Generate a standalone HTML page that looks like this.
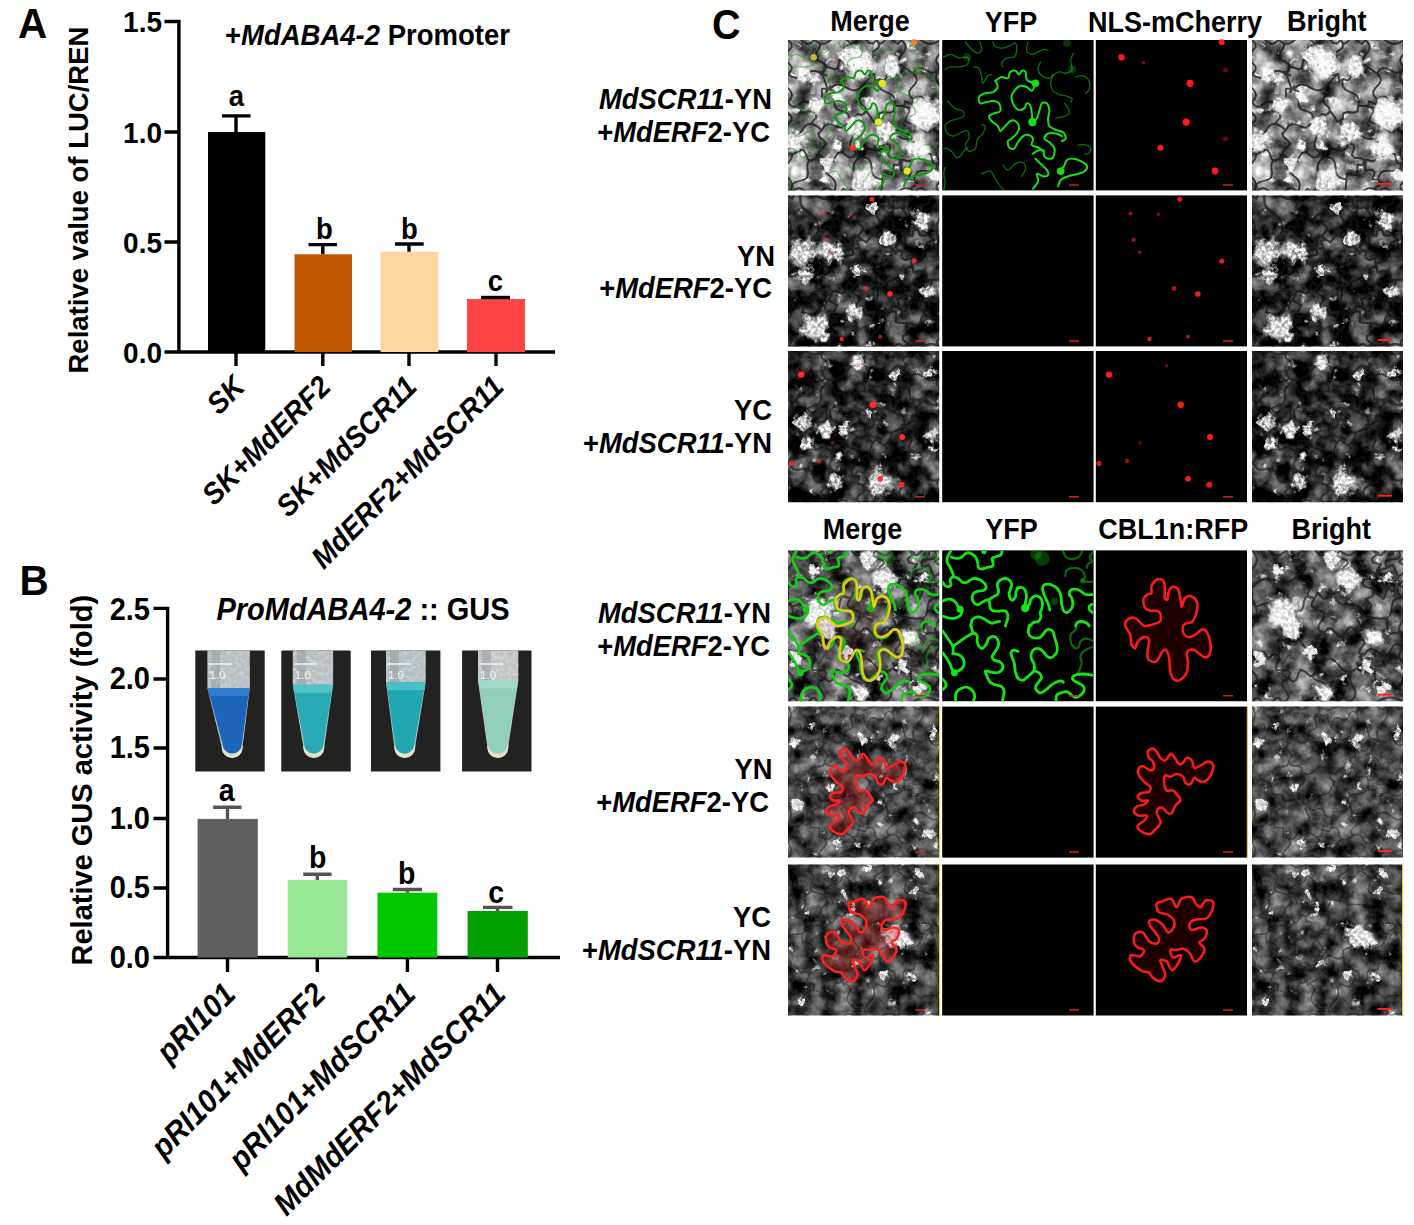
<!DOCTYPE html>
<html><head><meta charset="utf-8">
<style>
html,body{margin:0;padding:0;background:#fff;width:1414px;height:1225px;overflow:hidden}
svg#main{position:absolute;left:0;top:0}
text{font-family:"Liberation Sans",sans-serif;font-weight:bold;fill:#000}
</style></head><body>
<svg id="main" width="1414" height="1225" viewBox="0 0 1414 1225">
<defs>
<radialGradient id="gw"><stop offset="0" stop-color="#fff" stop-opacity="1"/><stop offset="1" stop-color="#fff" stop-opacity="0"/></radialGradient>
<radialGradient id="gk"><stop offset="0" stop-color="#000" stop-opacity="1"/><stop offset="1" stop-color="#000" stop-opacity="0"/></radialGradient>
<filter id="ft1" x="0" y="0" width="100%" height="100%" color-interpolation-filters="sRGB">
<feTurbulence type="fractalNoise" baseFrequency="0.05" numOctaves="4" seed="3" result="n1"/>
<feColorMatrix in="n1" type="matrix" values="1.4 0 0 0 -0.22  1.4 0 0 0 -0.22  1.4 0 0 0 -0.22  0 0 0 0 1" result="base"/>
<feTurbulence type="fractalNoise" baseFrequency="0.09" numOctaves="5" seed="20" result="n2"/>
<feColorMatrix in="n2" type="matrix" values="0 0 0 0 1  0 0 0 0 1  0 0 0 0 1  5 0 0 0 -3.1" result="white"/>
<feTurbulence type="turbulence" baseFrequency="0.045" numOctaves="1" seed="34" result="n3"/>
<feColorMatrix in="n3" type="matrix" values="0 0 0 0 0.08  0 0 0 0 0.08  0 0 0 0 0.08  0 0 0 0 0" result="lines"/>
<feComposite in="white" in2="base" operator="over" result="c1"/>
<feComposite in="lines" in2="c1" operator="over" result="c2"/>
<feGaussianBlur in="c2" stdDeviation="0.7"/>
</filter>
<filter id="spt1" x="-10%" y="-10%" width="120%" height="120%" color-interpolation-filters="sRGB">
<feTurbulence type="fractalNoise" baseFrequency="0.12" numOctaves="3" seed="53" result="t"/>
<feDisplacementMap in="SourceGraphic" in2="t" scale="14" xChannelSelector="R" yChannelSelector="G" result="d"/>
<feColorMatrix in="d" type="matrix" values="0 0 0 0 1  0 0 0 0 1  0 0 0 0 1  0 0 0 4 -1.2" result="w"/>
<feTurbulence type="fractalNoise" baseFrequency="0.3" numOctaves="2" seed="80" result="hf"/>
<feColorMatrix in="hf" type="matrix" values="0 0 0 0 1  0 0 0 0 1  0 0 0 0 1  3 0 0 0 -0.9" result="hfa"/>
<feComposite in="w" in2="hfa" operator="arithmetic" k1="0.35" k2="0.65" k3="0" k4="0" result="wt"/>
<feGaussianBlur in="wt" stdDeviation="0.5"/>
</filter>
<g id="text1"><rect width="152" height="152" filter="url(#ft1)"/><path d="M60.3 152L64 149.4 67.7 148.1 71.3 148.5 75 150.6 78.6 153.4 82.3 155.5 85.9 155.9 89.6 154.6 93.3 152M45.8 152L50.7 155.5 55.5 148.5 60.3 152M59.9 81.6L60.8 77.2 60 73.8 56.7 71.8 52.2 70.5 48.3 68.8 46.6 65.9 47.1 61.7 48.3 57.1 48.1 53.3 45.6 50.9 41.3 49.5M75.2 45.5L72 48.2 68.8 50 65.4 50.4 61.9 49.4 58.2 47.5 54.6 45.5 51 44.5 47.6 44.9 44.4 46.7 41.3 49.5M75.2 45.5L78.7 49.3 77.7 52.9 73.2 56.4 70.6 60 72.9 63.8 77.1 67.6 77.8 71.3 74 74.9M74 74.9L69.4 74.1 69.2 81.9 62.7 77.6 60.7 81.8M88.5 -0L84.8 3.7 81.1 2.8 77.4 -1.5 73.7 -4 70 -1.5 66.3 2.8 62.6 3.7 58.9 -0M58.3 19.2L63.5 17.8 65.6 21.7 66.3 27.8 69.6 29.7 75.3 27.5 79.6 27.6 80.8 32.9M58.3 19.2L62.2 15.5 56.2 11.5 56.3 7.6 62.6 4 58.9 -0M80.8 32.9L84.8 30.4 86.1 27.2 84.3 23.3 81.6 19.2 80.8 15.6 83.1 12.6 87.4 10.2 90.7 7.4 90.9 4 88.5 -0M26.5 0L22.8 3.1 19 3.9 15.2 1.7 11.4 -1.7 7.6 -3.9 3.8 -3.1 0 -0M58.9 -0L55.3 -2.6 51.7 -3.9 48.1 -3.5 44.5 -1.4 40.9 1.4 37.3 3.5 33.7 3.9 30.1 2.6 26.5 0M58.3 19.2L53.1 17.8 50.9 21.5 50.1 27.6 46.9 29.5 41.2 27.2 36.8 27.3 35.6 32.5M35.6 32.5L37.8 28.4 37.4 25 34.1 22.5 29.7 20.2 27.2 17.3 27.9 13.6 30.4 9.4 32 5.5 30.6 2.4 26.5 -0M75.2 45.5L77.6 42.6 80.1 39.7 82.6 36.8M82.6 36.8L85.2 34.1 78.2 35.6 80.8 32.9M41.3 49.5L42.2 46 38.4 51.9 39.3 48.4M39.3 48.4L37.8 43.9 36.2 39.4 34.6 35M35.6 32.5L32 32.1 38.2 35.4 34.6 35M59.9 81.6L57.5 85.4 54.7 87.5 51.1 87.5 46.9 85.8 42.8 84.2 39.2 84.2 36.3 86.3 34 90.1M39.3 48.4L33.7 48.7 34 54.3 34.2 59.9 28.6 60.2 23 60.4 23.2 66M23.2 66L20.5 70.9 27.5 73.4 28.5 77.4 23.5 82.8 28.1 85.9M34 90.1L32 88.7 30.1 87.3 28.1 85.9M36.8 119L41 121.7 44.5 121.1 47.3 117 50.1 112.9 53.6 112.2 57.7 115 61.9 117.7 65.4 117 68.2 112.9M36.8 119L35.9 118.4 35 117.9 34.1 117.3M60.7 81.8L64 84.7 66.2 87.8 66.5 91.4 65.3 95.3 63.5 99.4 62.3 103.4 62.7 107 64.9 110.1 68.2 112.9M34 90.1L30.3 93.5 31.2 96.9 35.5 100.3 38 103.7 35.6 107.1 31.2 110.5 30.3 113.9 34.1 117.3M36.8 119L35.5 122.9 35 126.6 35.9 129.9 38.2 132.8 41.3 135.5 44.5 138.2 46.8 141.1 47.7 144.4 47.2 148.1 45.8 152M45.8 152L42.3 149.2 38.8 148 35.3 149.2 31.9 152 28.4 154.8 24.9 156 21.4 154.8 17.9 152 14.4 149.2 10.9 148 7.4 149.2 3.9 152M3.9 152L3.6 147.6 4.6 144.2 7.5 142.1 11.8 140.9 16 139.8 18.9 137.7 19.9 134.3 19.6 129.9 19.2 125.5 20.2 122 23.1 119.9 27.4 118.8M27.4 118.8L28.8 114.9 32.6 121.2 34.1 117.3M152 63.8L148.5 67.5 148.5 71.2 152 74.9 155.5 78.6 155.5 82.3 152 86M94.5 139.4L94.7 134 100 134.6 105.4 135.3 105.5 129.9 105.7 124.5 111 125.1M94.5 139.4L90.2 138.6 86.8 137 84.8 134.2 83.9 130.2 83.4 125.8 82.5 121.8 80.5 119 77.1 117.4 72.8 116.6M111 125.1L112.1 119.8 108.2 118 102.1 117.7 100 114.6 101.9 108.7 101.5 104.4 96.2 103.6M96.2 103.6L94.3 108.1 91.3 110.5 86.9 110.4 81.9 109.1 77.6 108.9 74.6 111.4 72.7 115.9M93.3 152L93.7 147.8 94.1 143.6 94.5 139.4M60.3 152L63.5 149.5 66 146.8 67.5 143.7 67.7 140.1 67.1 136.3 66.1 132.3 65.4 128.5 65.7 125 67.1 121.9 69.6 119.1 72.8 116.6M68.2 112.9L69.7 113.9 71.2 114.9 72.7 115.9M90.8 79L88.1 83.8 93.1 86.1 98 88.4 95.3 93.2 92.6 98 97.6 100.3M97.6 100.3L97.1 101.4 96.7 102.5 96.2 103.6M74 74.9L79.2 72 82.4 76.9 85.6 81.9 90.8 79M90.8 79L91.4 73.5 95.5 71.9 101.7 72.8 105.7 71.3 106.3 65.7M82.6 36.8L86.1 34.1 87.3 41.4 90.8 38.7M90.8 38.7L90.3 43 90.9 46.6 93 49.4 96.5 51.4 100.6 53 104.2 55 106.3 57.8 106.8 61.4 106.3 65.7M125.9 92.1L128.2 87.6 126.2 84.7 120.9 83 117.4 80.6 118.5 76.5 121.4 71.8 121 68.3 116.4 66.3M152 86L147.4 83.1 144.1 86 141.5 91.6 137.8 92.5 133 88.6 128.7 87.4 125.9 92.1M152 63.8L148.2 66 144.6 66.6 141.4 64.9 138.5 61.6 135.6 58.2 132.4 56.5 128.8 57.1 125 59.3M125 59.3L124.3 64.3 117 61.3 116.4 66.3M97.6 100.3L100.3 96.7 103.5 94.7 107.2 95 111.3 96.9 115.4 98.8 119.2 99.1 122.3 97.1 125.1 93.5M106.3 65.7L109.7 65.9 113 66.1 116.4 66.3M115.5 27.2L112.4 24 111 20.7 111.9 17.2 114.4 13.6 117 10 117.9 6.5 116.5 3.2 113.4 -0M113.4 0L116.9 -2.2 120.4 -3.6 123.9 -4 127.4 -3 130.9 -1.1 134.4 1.1 138 3 141.5 4 145 3.6 148.5 2.2 152 -0M152 27.4L149.2 24 148 20.6 149.2 17.2 152 13.7 154.8 10.3 156 6.9 154.8 3.4 152 -0M125 33.4L127.8 29.9 130.9 28 134.5 28.4 138.5 30.4 142.5 32.4 146.1 32.8 149.2 31 152 27.4M125 33.4L121.8 31.3 118.7 29.2 115.5 27.2M88.5 -0L92 3.9 95.6 1.7 99.1 -3.1 102.7 -3.1 106.3 1.7 109.8 3.9 113.4 0M90.8 38.7L95.5 40.6 98.2 38.4 99.4 33 101.5 29.3 105.6 30.1 110.5 32.6 114 32 115.5 27.2M152 63.8L154.2 60.5 155.6 57.2 156 53.9 155 50.6 153.1 47.3 150.9 44 149 40.7 148 37.4 148.4 34.1 149.8 30.8 152 27.4M125 59.3L121.8 55.6 121.1 51.9 123.2 48.2 126.7 44.5 128.9 40.8 128.1 37.1 125 33.4M0 108.3L-0 103.9 0 99.4 -0 94.9M28.1 85.9L23.7 84.3 19.9 84.3 16.7 86.6 14.1 90.4 11.4 94.2 8.3 96.5 4.4 96.5 0 94.9M27.4 118.8L22.7 121 19.5 118.8 17.7 113.5 15.1 109.8 10.8 110.8 5.8 113.6 2.1 113.1 -0 108.3M0 108.3L2.7 111.7 4 115.1 3.3 118.4 1 121.8 -1.9 125.1 -3.7 128.5 -3.7 131.9 -1.9 135.2 1 138.6 3.3 141.9 4 145.3 2.7 148.6 0 152M3.9 152L2.6 152 1.3 152 0 152M125.1 93.5L122.1 97.8 124.3 101.1 129.6 103.7 131.8 106.9 128.8 111.3M111 125.1L112.3 121.8 112.4 128.7 113.6 125.4M113.6 125.4L114.1 119.8 121.3 121.5 124.3 118.6 123.2 111.3 128.8 111.3M0 33.9L-2.8 37.4 -4 41 -2.8 44.5 -0 48 2.8 51.5 4 55.1 2.8 58.6 0 62.1M34.6 35L31.2 32.5 27.8 30.9 24.4 30.8 20.8 32.2 17.3 34.4 13.8 36.7 10.3 38 6.8 37.9 3.4 36.4 -0 33.9M23.2 66L19.9 61.9 16.1 61.3 11.6 64.1 7.2 66.8 3.3 66.2 -0 62.1M0 -0L3.2 3.4 3.8 6.8 1.2 10.2 -2.4 13.6 -4 17 -2.4 20.4 1.2 23.7 3.8 27.1 3.2 30.5 0 33.9M0 94.9L-3.5 91.3 -3.5 87.6 -0 84 3.5 80.3 3.5 76.7 0 73 -3.5 69.4 -3.5 65.7 -0 62.1M152 121.8L148.5 125.2 148.5 128.5 152 131.9 155.5 135.2 155.5 138.6 152 141.9 148.5 145.3 148.5 148.6 152 152M151.3 121.8L150 125.9 147.9 129 144.8 130.6 140.8 130.9 136.4 130.6 132.3 130.9 129.2 132.5 127.2 135.6 125.8 139.7M152 152L148.4 155.1 144.7 155.9 141.1 153.7 137.4 150.3 133.8 148.1 130.1 148.9 126.5 152M125.8 139.7L129.5 143.6 122.8 148.1 126.5 152M152 86L154.4 89.6 155.8 93.1 155.8 96.7 154.4 100.3 152 103.9 149.6 107.5 148.2 111.1 148.2 114.7 149.6 118.2 152 121.8M128.8 111.3L130.3 116.3 134.5 115.8 139.8 113 143 114.5 144.1 120.4 146.5 123.8 151.3 121.8M113.6 125.4L113.2 130.7 120.3 129.6 122.7 132.5 120.5 139.3 125.8 139.7M93.3 152L96.6 154.4 99.9 155.8 103.2 155.8 106.5 154.4 109.9 152 113.2 149.6 116.5 148.2 119.8 148.2 123.1 149.6 126.5 152" fill="none" stroke="#141414" stroke-width="2" stroke-opacity="0.75" stroke-linejoin="round"/><circle cx="14.5" cy="58.8" r="15" fill="url(#gk)" opacity="0.5"/><circle cx="36" cy="112" r="10" fill="url(#gk)" opacity="0.4"/><g filter="url(#spt1)"><circle cx="74" cy="23" r="22.2" fill="url(#gw)"/><circle cx="58.8" cy="14.5" r="14.8" fill="url(#gw)"/><circle cx="103" cy="27" r="16.7" fill="url(#gw)"/><circle cx="137" cy="74" r="27.8" fill="url(#gw)"/><circle cx="131" cy="108" r="18.5" fill="url(#gw)"/><circle cx="74" cy="141" r="20.4" fill="url(#gw)"/><circle cx="96.7" cy="91.7" r="16.7" fill="url(#gw)"/><circle cx="66" cy="86.6" r="14.8" fill="url(#gw)"/><circle cx="28" cy="66" r="14.8" fill="url(#gw)"/><circle cx="5.6" cy="101.8" r="14.8" fill="url(#gw)"/><circle cx="40" cy="123" r="11.1" fill="url(#gw)"/><circle cx="146" cy="135" r="11.1" fill="url(#gw)"/><circle cx="14.5" cy="36" r="11.1" fill="url(#gw)"/><circle cx="51" cy="57.5" r="9.2" fill="url(#gw)"/></g></g>
<filter id="ft2" x="0" y="0" width="100%" height="100%" color-interpolation-filters="sRGB">
<feTurbulence type="fractalNoise" baseFrequency="0.05" numOctaves="4" seed="8" result="n1"/>
<feColorMatrix in="n1" type="matrix" values="1.3 0 0 0 -0.48  1.3 0 0 0 -0.48  1.3 0 0 0 -0.48  0 0 0 0 1" result="base"/>
<feTurbulence type="fractalNoise" baseFrequency="0.09" numOctaves="5" seed="25" result="n2"/>
<feColorMatrix in="n2" type="matrix" values="0 0 0 0 1  0 0 0 0 1  0 0 0 0 1  5 0 0 0 -3.4" result="white"/>
<feTurbulence type="turbulence" baseFrequency="0.045" numOctaves="1" seed="39" result="n3"/>
<feColorMatrix in="n3" type="matrix" values="0 0 0 0 0.08  0 0 0 0 0.08  0 0 0 0 0.08  0 0 0 0 0" result="lines"/>
<feComposite in="white" in2="base" operator="over" result="c1"/>
<feComposite in="lines" in2="c1" operator="over" result="c2"/>
<feGaussianBlur in="c2" stdDeviation="0.7"/>
</filter>
<filter id="spt2" x="-10%" y="-10%" width="120%" height="120%" color-interpolation-filters="sRGB">
<feTurbulence type="fractalNoise" baseFrequency="0.12" numOctaves="3" seed="58" result="t"/>
<feDisplacementMap in="SourceGraphic" in2="t" scale="14" xChannelSelector="R" yChannelSelector="G" result="d"/>
<feColorMatrix in="d" type="matrix" values="0 0 0 0 1  0 0 0 0 1  0 0 0 0 1  0 0 0 4 -1.2" result="w"/>
<feTurbulence type="fractalNoise" baseFrequency="0.3" numOctaves="2" seed="85" result="hf"/>
<feColorMatrix in="hf" type="matrix" values="0 0 0 0 1  0 0 0 0 1  0 0 0 0 1  3 0 0 0 -0.9" result="hfa"/>
<feComposite in="w" in2="hfa" operator="arithmetic" k1="0.55" k2="0.45" k3="0" k4="0" result="wt"/>
<feGaussianBlur in="wt" stdDeviation="0.5"/>
</filter>
<g id="text2"><rect width="152" height="152" filter="url(#ft2)"/><path d="M143 84.5L137.9 85.2 136.8 80.2 135.7 75.2 130.6 75.9 125.5 76.6 124.4 71.6M143 84.5L143.1 89.4 140.8 92.6 136.1 93.9 131.3 95.2 129 98.3 129.1 103.2M114.1 101.7L118.1 99.6 121.2 105.9 125.6 100.4 129.1 103.2M114.1 101.7L112.8 96.9 111.4 92.1 110.1 87.3M124.4 71.6L119.8 72.2 117.4 74.8 117.2 79.4 117.1 84.1 114.7 86.7 110.1 87.3M110.1 87.3L107.9 82.8 103.4 84.9 98.9 87 96.7 82.6 94.5 78.1 90 80.2M83.4 86.9L85.6 84.6 87.8 82.4 90 80.2M114.1 101.7L109.4 103.7 111.3 110.9 103.9 110.8 103.1 115.8M83.4 86.9L86.8 89.3 89.2 92.1 90.1 95.6 89.7 99.5 88.7 103.7 88.3 107.6 89.2 111 91.6 113.9 95 116.3M103.1 115.8L100.6 119 97.5 113.1 95 116.3M83.4 86.9L79.9 91.1 74.9 88.6 70 86 66.4 90.3M70.4 116.9L66.5 113.6 67.8 109.5 71.4 105.1 70.8 101.3 66 98.1 63.6 94.6 66.4 90.3M70.4 116.9L74.9 114 78.5 119.7 82.7 120.1 87.3 115.2 91.2 118.9M95 116.3L95.4 119.7 90.8 115.5 91.2 118.9M64.7 54L65.2 59.3 60 60.6 54.7 61.9 55.2 67.2M90 80.2L93 76.9 86.9 73.6 90 70.2M90 70.2L88.9 65.5 85.5 64 80.3 65 76.1 64.7 74.4 60.9 73.6 55.7 71.1 53 66.3 53.5M55.2 67.2L59.1 69.3 61.2 72.3 60.9 76.3 59.5 80.7 59.2 84.7 61.2 87.6 65.2 89.7M70.4 116.9L66.1 116.5 67.5 123.1 63.2 122.7M65.2 89.7L60.6 88.1 58.2 91.3 56.9 96.6 53.8 98.1 48.8 95.7 44.9 95.5 43.2 100.1M43.2 100.1L40.6 104.5 44.9 107.4 49.2 110.2 46.6 114.7 44.1 119.1 48.4 121.9M48.4 121.9L53.5 119.2 58.1 125.5 63.2 122.7M23.9 125.7L27.9 122.9 31.3 124.7 34.3 129.3 37.7 131.1 41.7 128.3M15.2 111.5L14.4 116.9 19.5 118.6 24.7 120.3 23.9 125.7M15.2 111.5L20.2 110.9 23 108.2 23.7 103.3 24.5 98.3 27.3 95.6 32.3 95M32.3 95L35.9 96.7 39.6 98.4 43.2 100.1M48.4 121.9L48.3 126.3 41.8 124 41.7 128.3M91.2 118.9L92.6 122.5 93.3 126.1 92.7 129.4 90.9 132.5 88.3 135.4 85.7 138.4 83.9 141.5 83.3 144.8 84 148.3 85.4 152M85.4 152L81 152 76.5 152 72 152M63.2 122.7L66.3 125.3 68.4 128.2 69 131.6 68.3 135.4 66.9 139.3 66.2 143.1 66.7 146.5 68.9 149.4 72 152M41.7 128.3L38.7 132.6 42.6 136.2 46.5 139.8 43.4 144.1 40.3 148.4 44.2 152M44.2 152L47.7 149.5 51.2 148.5 54.6 149.5 58.1 152 61.6 154.5 65.1 155.5 68.5 154.5 72 152M44.2 152L40.7 154.8 37.2 155.3 33.6 153.1 30.1 149.9 26.6 148.5 23 149.9 19.5 153.1 16 155.3 12.4 154.8 8.9 152M23.9 125.7L19.6 127.1 17.9 130 18.9 134.4 19.9 138.9 18.2 141.8 13.9 143.2 9.6 144.6 7.9 147.6 8.9 152M117.9 133.1L120.8 137.2 115.1 140.5 114.8 144.2 119.8 148.5 116.1 152M85.4 152L88.8 149 92.3 149 95.7 152 99.1 155 102.5 155 105.9 152 109.3 149 112.7 149 116.1 152M103.1 115.8L108.2 116.4 108 121.6 107.8 126.7 112.9 127.3 118.1 127.9 117.9 133.1M116.1 152L119.7 154.1 123.3 155.3 126.9 155.3 130.5 154.1 134.1 152 137.6 149.9 141.2 148.7 144.8 148.7 148.4 149.9 152 152M129.1 103.2L133.9 104.3 132.9 109.1 131.8 114 136.7 115 141.5 116.1 140.4 121M117.9 133.1L119.5 128.4 123.6 128.3 128.8 130.3 132.1 128.6 133.3 123.1 135.6 119.7 140.4 121M152 44.3L150.2 47.6 149 51 148.5 54.3 149 57.6 150.2 60.9 152 64.2 153.8 67.5 155 70.8 155.5 74.1 155 77.4 153.8 80.7 152 84M152 84L153.8 87.3 155 90.6 155.5 93.9 155 97.3 153.8 100.6 152 103.9 150.2 107.2 149 110.5 148.5 113.9 149 117.2 150.2 120.5 152 123.8M140.4 121L144.3 121.9 148.1 122.9 152 123.8M143 84.5L146 84.3 149 84.2 152 84M124.4 71.6L124.2 70.5 124 69.3 123.8 68.2M152 44.3L150.6 47.4 149.1 41.3 147.7 44.4M147.7 44.4L143.8 45.3 140.5 46.8 138.1 49.2 136.7 52.4 135.7 56.3 134.8 60.1 133.3 63.4 130.9 65.8 127.6 67.3 123.8 68.2M152 152L148.8 148.5 149.5 145 153.3 141.4 155.5 137.9 153.3 134.4 149.5 130.9 148.8 127.3 152 123.8M152 -0L148.7 -0 145.3 0 142 -0M127.5 19.5L127.4 15.1 128.9 11.9 132.5 10.2 137 9.3 140.6 7.6 142.1 4.4 142 0M152 44.3L150.4 40.9 149.1 37.5 148.5 34.1 148.7 30.7 149.7 27.3 151.2 23.9 152.8 20.5 154.3 17.1 155.3 13.6 155.5 10.2 154.9 6.8 153.6 3.4 152 -0M147.7 44.4L145.7 39.5 141.6 38.7 136.1 40.4 132 39.6 130.1 34.7M130.1 34.7L126 31.5 128.8 27.1 131.6 22.7 127.5 19.5M90 70.2L95 69.6 93.6 63.1 96.2 60.2 102.8 61 103 55.9M73.9 44.1L78.4 46.9 81.7 42.8 85.1 38.6 89.6 41.4M66.3 53.5L71.2 52.3 69 45.4 73.9 44.1M89.6 41.4L94.7 42 93.4 48.6 96.1 51.5 102.7 50.8 103 55.9M130.1 34.7L125.6 34 124.4 41 118.6 36.9 116 40.7M123.8 68.2L123.1 63.1 116.5 64.5 113.5 61.9 114.2 55.2 109 55.1M116 40.7L117.4 45.9 112.5 47.9 107.6 50 109 55.1M103 55.9L104.6 52.6 107.4 58.4 109 55.1M0 152L3 152 5.9 152 8.9 152M75.3 16.5L77.8 12.3 71.9 8.2 77.8 4.1 75.4 0M75.4 0L79 -2.5 82.7 -3.5 86.3 -2.5 90 0 93.7 2.5 97.3 3.5 101 2.5 104.6 0M75.3 16.5L77.7 21 82.5 19 87.3 17.1 89.7 21.6 92.1 26.2 96.9 24.2M105.8 13.7L105.4 9.1 105 4.6 104.6 0M105.8 13.7L103.7 16.8 101.7 20 99.6 23.1M99.6 23.1L97.5 20.7 98.9 26.7 96.9 24.2M89.6 41.4L88 36.6 90.6 33.7 95.9 31.9 98.5 29 96.9 24.2M73.9 44.1L69.8 40.8 72.8 36.6 75.7 32.3 71.6 29 67.6 25.7 70.5 21.4M70.5 21.4L72.1 19.7 73.7 18.1 75.3 16.5M127.5 19.5L123.1 21.5 119.5 20.5 116.7 16.6 113.8 12.7 110.2 11.8 105.8 13.7M142 0L138.6 -1.9 135.2 -3.2 131.8 -3.5 128.4 -2.6 125 -1 121.6 1 118.2 2.6 114.8 3.5 111.4 3.2 108 1.9 104.6 0M116 40.7L116.2 35.9 112.5 34.6 107 35 104.6 32.5 105.4 27.1 104.4 23.3 99.6 23.1M55.2 67.2L51.3 70.8 46.8 65.8 42.7 66.1 39 71.8 34.7 68.7M32.3 95L27.8 92 30 87.1 32.3 82.2 27.8 79.2M27.8 79.2L30.1 75.7 32.4 72.2 34.7 68.7M15.2 111.5L11.8 108.5 7.1 113.8 4.2 107.3 0 109.1M27.8 79.2L24.1 82.2 20.7 81.3 17.5 77.3 14.1 74.9 10.5 76.9 6.8 80.5 3.3 81.1 -0 77.7M0 77.7L-2.2 81.1 -3.4 84.6 -3 88.1 -1.2 91.6 1.2 95.1 3 98.6 3.4 102.1 2.2 105.6 0 109.1M0 152L2.3 148.7 3.5 145.4 2.9 142.1 0.8 138.8 -1.6 135.5 -3.3 132.2 -3.3 128.9 -1.6 125.6 0.8 122.3 2.9 119 3.5 115.7 2.3 112.4 0 109.1M70.5 21.4L66.8 18.1 63.3 21.7 59.9 25.4 56.2 22.1 52.4 18.8 49 22.4M49 22.4L51.8 18.1 47.7 15 43.6 11.8 46.4 7.5 49.2 3.1 45.1 -0M75.4 0L72 2.2 68.6 3.4 65.3 3 61.9 1.2 58.5 -1.2 55.2 -3 51.8 -3.4 48.4 -2.2 45.1 0M64.7 54L60.1 53.7 57.6 51.3 57.2 46.7 56.8 42.1 54.3 39.7 49.7 39.5 45.1 39.2 42.6 36.8 42.3 32.2M42.3 32.2L47 30.7 44.2 24 49 22.4M-0 46.2L1.5 42.9 2.7 39.6 3.4 36.3 3.4 33 2.7 29.7 1.5 26.4 -0 23.1 -1.5 19.8 -2.7 16.5 -3.4 13.2 -3.4 9.9 -2.7 6.6 -1.5 3.3 -0 -0M24.3 43.5L21.2 46.6 17.7 47.7 14.1 46.2 10.3 43.6 6.6 42.1 3.2 43.1 -0 46.2M24.3 43.5L26.4 40.9 28.5 38.3 30.5 35.7M30.5 35.7L30.6 31.9 30.2 28.3 29.1 25.1 27.2 22.4 24.5 20 21.4 17.8 18.3 15.7 15.7 13.3 13.7 10.5 12.6 7.3 12.3 3.8 12.3 0M12.3 0L8.2 -3 4.1 3 -0 -0M0 77.7L3 74.2 3 70.7 -0 67.2 -3 63.7 -3 60.2 -0 56.7 3 53.2 3 49.7 -0 46.2M34.7 68.7L36.4 64.4 34.4 61.5 29.5 59.8 26.3 57.5 27 53.5 29.2 48.9 28.6 45.5 24.3 43.5M42.3 32.2L37.5 30.5 35.3 37.4 30.5 35.7M45.1 0L41.4 2.2 37.8 3.4 34.1 3 30.5 1.2 26.9 -1.2 23.2 -3 19.6 -3.4 15.9 -2.2 12.3 -0" fill="none" stroke="#141414" stroke-width="2.4" stroke-opacity="0.7" stroke-linejoin="round"/><circle cx="105" cy="99.4" r="22" fill="url(#gk)" opacity="0.5"/><circle cx="49" cy="28" r="10" fill="url(#gk)" opacity="0.4"/><g filter="url(#spt2)"><circle cx="15" cy="57" r="21.0" fill="url(#gw)"/><circle cx="43" cy="57" r="18.0" fill="url(#gw)"/><circle cx="27" cy="131" r="21.0" fill="url(#gw)"/><circle cx="66" cy="116" r="13.5" fill="url(#gw)"/><circle cx="101" cy="44" r="12.0" fill="url(#gw)"/><circle cx="135" cy="25" r="15.0" fill="url(#gw)"/><circle cx="140" cy="96" r="10.5" fill="url(#gw)"/><circle cx="17" cy="80" r="12.0" fill="url(#gw)"/><circle cx="84.5" cy="12.9" r="7.5" fill="url(#gw)"/><circle cx="36" cy="140" r="9.0" fill="url(#gw)"/><circle cx="70" cy="75" r="7.5" fill="url(#gw)"/></g></g>
<filter id="ft3" x="0" y="0" width="100%" height="100%" color-interpolation-filters="sRGB">
<feTurbulence type="fractalNoise" baseFrequency="0.05" numOctaves="4" seed="14" result="n1"/>
<feColorMatrix in="n1" type="matrix" values="1.3 0 0 0 -0.48  1.3 0 0 0 -0.48  1.3 0 0 0 -0.48  0 0 0 0 1" result="base"/>
<feTurbulence type="fractalNoise" baseFrequency="0.09" numOctaves="5" seed="31" result="n2"/>
<feColorMatrix in="n2" type="matrix" values="0 0 0 0 1  0 0 0 0 1  0 0 0 0 1  5 0 0 0 -3.4" result="white"/>
<feTurbulence type="turbulence" baseFrequency="0.045" numOctaves="1" seed="45" result="n3"/>
<feColorMatrix in="n3" type="matrix" values="0 0 0 0 0.08  0 0 0 0 0.08  0 0 0 0 0.08  0 0 0 0 0" result="lines"/>
<feComposite in="white" in2="base" operator="over" result="c1"/>
<feComposite in="lines" in2="c1" operator="over" result="c2"/>
<feGaussianBlur in="c2" stdDeviation="0.7"/>
</filter>
<filter id="spt3" x="-10%" y="-10%" width="120%" height="120%" color-interpolation-filters="sRGB">
<feTurbulence type="fractalNoise" baseFrequency="0.12" numOctaves="3" seed="64" result="t"/>
<feDisplacementMap in="SourceGraphic" in2="t" scale="14" xChannelSelector="R" yChannelSelector="G" result="d"/>
<feColorMatrix in="d" type="matrix" values="0 0 0 0 1  0 0 0 0 1  0 0 0 0 1  0 0 0 4 -1.2" result="w"/>
<feTurbulence type="fractalNoise" baseFrequency="0.3" numOctaves="2" seed="91" result="hf"/>
<feColorMatrix in="hf" type="matrix" values="0 0 0 0 1  0 0 0 0 1  0 0 0 0 1  3 0 0 0 -0.9" result="hfa"/>
<feComposite in="w" in2="hfa" operator="arithmetic" k1="0.55" k2="0.45" k3="0" k4="0" result="wt"/>
<feGaussianBlur in="wt" stdDeviation="0.5"/>
</filter>
<g id="text3"><rect width="152" height="152" filter="url(#ft3)"/><path d="M112.2 152L108.8 150.2 105.4 149 102 148.5 98.6 149 95.2 150.2 91.8 152 88.4 153.8 85 155 81.5 155.5 78.1 155 74.7 153.8 71.3 152M112.2 152L112.1 149.6 112 147.2 111.8 144.8M74 134.1L78.5 135.5 81.8 134.2 83.9 130 86.1 125.9 89.4 124.5 93.8 126M74 134.1L76.8 138.2 75 141.6 70.4 144.5 68.6 147.9 71.3 152M93.8 126L93.9 131.1 97.9 132.4 103.5 132.2 106.1 134.9 105.6 140.5 106.8 144.5 111.8 144.8M112.2 152L115.5 149.5 118.9 148.5 122.2 149.5 125.5 152 128.8 154.5 132.1 155.5 135.4 154.5 138.7 152 142.1 149.5 145.4 148.5 148.7 149.5 152 152M152 152L154.7 148.5 155.4 145 153.5 141.5 150.5 138 148.6 134.5 149.3 131 152 127.5M126.1 122.9L130.3 120.9 134.1 120.9 137.5 123.4 140.6 127 144 129.5 147.8 129.5 152 127.5M111.8 144.8L111.6 140.2 113 136.7 116.7 134.6 121.3 133.1 124.9 131 126.4 127.5 126.1 122.9M152 -0L149.3 3.7 148.6 7.3 150.5 11 153.5 14.7 155.4 18.3 154.7 22 152 25.6M0 152L3.3 153.9 6.6 155.2 9.9 155.5 13.2 154.6 16.5 153 19.8 151 23.1 149.4 26.4 148.5 29.7 148.8 33 150.1 36.3 152M36.7 130.8L40.1 134.4 36.6 137.8 33 141.3 36.4 144.9 39.9 148.5 36.3 152M71.3 152L67.8 154.8 64.3 155.3 60.8 153.1 57.3 149.9 53.8 148.5 50.3 149.9 46.8 153.1 43.3 155.3 39.8 154.8 36.3 152M46.2 120.1L50.6 123.5 54.8 120 59 116.4 63.4 119.9M74 134.1L69.4 132 71.5 124.9 64.1 124.9 63.4 119.9M46.2 120.1L40.8 121.6 42.1 129.2 36.7 130.8M152 127.5L154.1 124.1 155.3 120.7 155.3 117.3 154.1 114 152 110.6 149.9 107.2 148.7 103.8 148.7 100.4 149.9 97.1 152 93.7M126.1 122.9L124.1 118.5 122.2 114 120.2 109.6M152 93.7L148.1 92.1 144.6 92 141.5 93.8 138.9 97 136.2 100.3 133.2 102.1 129.6 102 125.7 100.4M125.7 100.4L126.5 105 119.4 105 120.2 109.6M83.9 64.1L85 58.8 89 57.1 94.9 57.6 98.9 55.9 100 50.7M116.8 74.3L116.7 69.9 115.5 66.4 112.5 64 108.4 62.5 104.3 61 101.3 58.6 100.1 55.1 100 50.7M84.9 69L89.8 68.4 93.2 70.4 95 75 96.9 79.7 100.2 81.7 105.2 81.1M84.9 69L84.6 67.3 84.2 65.7 83.9 64.1M116.8 74.3L113.8 73.6 118.6 77.3 115.6 76.5M115.6 76.5L112.1 78.1 108.6 79.6 105.2 81.1M76.3 0L79.8 2.5 83.3 3.5 86.8 2.5 90.3 -0 93.8 -2.5 97.3 -3.5 100.8 -2.5 104.3 -0 107.7 2.5 111.2 3.5 114.7 2.5 118.2 -0M152 -0L148.6 2.1 145.2 3.3 141.9 3.3 138.5 2.1 135.1 -0 131.7 -2.1 128.4 -3.3 125 -3.3 121.6 -2.1 118.2 -0M95.8 115.7L97.3 110.8 104.1 113.3 105.6 108.4M95.8 115.7L90.8 116.2 90.7 109.6 87.6 107.4 81.4 109.6 80.1 104.7M105.6 108.4L101.2 106 101.2 102 103.9 97.2 103.9 93.3 99.6 90.8M99.6 90.8L96.2 94.7 92 91.6 87.8 88.5 84.4 92.4M80.1 104.7L81.6 100.6 83 96.5 84.4 92.4M93.8 126L94.5 122.6 95.1 119.1 95.8 115.7M120.2 109.6L115.1 112.2 110.7 105.8 105.6 108.4M69.9 108.1L67.7 112 65.6 116 63.4 119.9M69.9 108.1L73.3 107 76.7 105.8 80.1 104.7M125.7 100.4L121.1 98.3 121.4 94.2 123.9 89.1 122.4 85.7 117.1 84 113.9 81.3 115.6 76.5M105.2 81.1L103.3 84.3 101.5 87.6 99.6 90.8M78.4 83.1L76.8 78.1 81.6 76 86.4 74 84.9 69M78.4 83.1L80.4 86.2 82.4 89.3 84.4 92.4M76.3 0L73 1.7 69.6 3 66.3 3.5 62.9 3 59.6 1.8 56.2 -0 52.9 -1.7 49.5 -3 46.2 -3.5 42.8 -3 39.5 -1.8 36.1 -0M37.6 27.3L34.2 24 34.8 20.6 38.4 17 40.4 13.4 38 10.1 34 6.9 33.1 3.6 36.1 0M76.9 13.6L76.7 9.1 76.5 4.5 76.3 -0M38.5 28.1L42.3 28.5 46 28.5 49.3 27.8 52.4 26.1 55.1 23.7 57.7 20.9 60.3 18 63 15.6 66.1 13.9 69.4 13.2 73.1 13.2 76.9 13.6M69.9 108.1L70.3 103.5 69 99.9 65.4 97.7 60.9 96.1 57.4 93.8 56 90.3 56.5 85.6M78.4 83.1L75.1 86.4 71.4 86.8 67.5 84.1 63.6 81.4 60 81.8 56.6 85.1M46.2 120.1L42.3 117.5 41.3 114 43.2 109.6 45.1 105.3 44.1 101.8 40.1 99.2M56.5 85.6L56 90.6 51 90.2 46.1 89.7 45.6 94.7 45.1 99.6 40.1 99.2M81.2 29.3L81.7 34.4 85.8 35.5 91.4 34.9 94.2 37.4 94.2 43.1 95.8 47 100.8 47M81.2 29.3L78 26.3 84 23 80.8 20M80.8 20L84.2 17 87.6 16.3 91.3 18.3 95 21.3 98.5 22.5 102 20.9 105.3 17.5 108.7 15.1 112.2 15.4 115.9 18M100.8 47L105.8 47.9 108.4 44.9 109.4 39.4 112 36.3 116.9 37.2M116.9 37.2L115 32.8 121.8 30.8 119.8 26.5M119.8 26.5L118.5 23.6 117.2 20.8 115.9 18M118.2 -0L121.1 4 115.2 6.9 114.8 10.5 119.6 14.8 115.9 18M76.9 13.6L78.2 15.7 79.5 17.9 80.8 20M124.4 70.5L121.9 71.8 119.4 73.1 116.8 74.3M131.5 54L131.8 48.9 126.7 48.4 121.6 47.9 121.8 42.8 122 37.7 116.9 37.2M131.5 54L127.5 57.1 131.2 63.6 123.9 65.4 124.4 70.5M100 50.7L103.2 50.2 97.6 47.6 100.8 47M152 25.6L148.5 28 144.9 29.3 141.4 28.9 137.7 27.2 134.1 24.9 130.5 23.2 126.9 22.8 123.3 24.1 119.8 26.5M152 83.8L154.8 80.5 155.3 77.1 153.1 73.7 149.9 70.3 148.5 66.9 149.9 63.5 153.1 60.1 155.3 56.8 154.8 53.4 152 50M152 93.7L155 90.4 149 87.1 152 83.8M124.4 70.5L128.5 69.9 132 70.3 134.9 72.2 137.2 75.3 139.2 79 141.5 82.1 144.4 84 148 84.4 152 83.8M131.5 54L135 49.9 139.3 50.4 144.2 53.6 148.6 54.1 152 50M152 25.6L149.3 29.1 148.6 32.6 150.5 36.1 153.5 39.6 155.4 43 154.7 46.5 152 50M54.1 76.3L50.7 73.6 47.2 70.9 43.7 68.1M54.1 76.3L59.1 76.1 60.3 72.2 59.7 66.6 62.3 64 67.8 64.4 71.7 63.1 71.8 58.2M43.7 68.1L41.8 64 42 60.2 44.6 57.1 48.4 54.1 51.1 51 51.2 47.3 49.3 43.1M49.3 43.1L54.2 41.5 57.4 48.3 63 43.3 66.9 46.6M66.9 46.6L71.3 49.3 67.4 55.5 71.8 58.2M83.9 64.1L79.8 62.1 75.8 60.1 71.8 58.2M56.6 85.1L52.9 83 57.9 78.4 54.1 76.3M40.3 33.1L43.3 36.4 46.3 39.8 49.3 43.1M40.3 33.1L36.8 32.5 42 28.8 38.5 28.1M81.2 29.3L76.1 30 76.4 35.1 76.7 40.2 71.6 40.8 66.6 41.5 66.9 46.6M25.3 94.6L21.5 91.4 23.1 87.7 27 83.8 26.6 80.3 22 77.2 19.8 73.8 22.9 70M25.3 94.6L20.4 94.1 17.8 96.9 17.1 102.1 15.4 106.1 11.1 106.5 5.9 105.6 2.5 107.1 1.4 111.9M0 112.1L-2.1 108.8 -3.3 105.4 -3.3 102.1 -2.1 98.8 -0 95.4 2.1 92.1 3.3 88.7 3.3 85.4 2.1 82.1 0 78.7 -2.1 75.4 -3.3 72.1 -3.3 68.7 -2.1 65.4 -0 62.1M3.7 61.8L2.5 61.9 1.2 62 0 62.1M3.7 61.8L9.3 60.2 12.4 67.4 18 65.9M18 65.9L19.6 67.3 21.2 68.6 22.9 70M43.7 68.1L39.2 65.2 35.6 70.9 31.4 71.3 26.7 66.3 22.9 70M40.1 99.2L37.5 94.7 32.7 96.9 27.9 99.1 25.3 94.6M36.7 130.8L32.6 131.4 29.2 130.7 26.7 128.2 24.9 124.5 23.2 120.7 20.7 118.3 17.3 117.6 13.2 118.2 9.1 118.8 5.7 118.1 3.2 115.7 1.4 111.9M0 152L-2.5 148.7 -3.5 145.4 -2.5 142 0 138.7 2.5 135.4 3.5 132.1 2.5 128.7 0 125.4 -2.5 122.1 -3.5 118.8 -2.5 115.4 -0 112.1M20.6 28.7L25.1 30.8 28.8 24.5 33.6 30.1 37.6 27.3M20.6 28.7L20.8 32.6 20.4 36.2 19.1 39.3 16.8 42 13.8 44.2 10.5 46.3 7.5 48.6 5.2 51.2 4 54.3 3.6 57.9 3.7 61.8M40.3 33.1L36.4 34.5 33.7 36.6 32.7 39.9 32.9 44 33 48.2 32 51.5 29.3 53.6 25.4 55 21.5 56.3 18.8 58.5 17.8 61.8 18 65.9M-0 -0L3.3 3.7 2.1 7.5 -2.1 11.2 -3.3 14.9 -0 18.7M0 62.1L2.3 58.7 3.5 55.4 2.9 52 0.8 48.7 -1.6 45.4 -3.3 42 -3.3 38.7 -1.6 35.3 0.8 32 2.9 28.7 3.5 25.3 2.3 22 0 18.7M36.1 -0L32.9 1.9 29.6 3.2 26.3 3.5 23 2.6 19.7 1 16.4 -1 13.1 -2.6 9.9 -3.5 6.6 -3.2 3.3 -1.9 -0 -0M20.6 28.7L18.7 23.9 13.7 25.4 8.8 26.8 6.9 22 5 17.2 0 18.7" fill="none" stroke="#141414" stroke-width="2.2" stroke-opacity="0.6" stroke-linejoin="round"/><circle cx="120" cy="71" r="24" fill="url(#gk)" opacity="0.6"/><g filter="url(#spt3)"><circle cx="69" cy="11" r="12.0" fill="url(#gw)"/><circle cx="15" cy="71" r="15.0" fill="url(#gw)"/><circle cx="38" cy="78" r="12.0" fill="url(#gw)"/><circle cx="57" cy="79" r="10.5" fill="url(#gw)"/><circle cx="19" cy="93" r="10.5" fill="url(#gw)"/><circle cx="91" cy="133" r="19.5" fill="url(#gw)"/><circle cx="142" cy="83" r="10.5" fill="url(#gw)"/><circle cx="141" cy="22" r="9.0" fill="url(#gw)"/><circle cx="48" cy="132" r="13.5" fill="url(#gw)"/><circle cx="107" cy="24" r="7.5" fill="url(#gw)"/><circle cx="82" cy="63" r="6.0" fill="url(#gw)"/><circle cx="145.6" cy="96.5" r="7.5" fill="url(#gw)"/></g></g>
<filter id="fb1" x="0" y="0" width="100%" height="100%" color-interpolation-filters="sRGB">
<feTurbulence type="fractalNoise" baseFrequency="0.05" numOctaves="4" seed="21" result="n1"/>
<feColorMatrix in="n1" type="matrix" values="1.3 0 0 0 -0.33  1.3 0 0 0 -0.33  1.3 0 0 0 -0.33  0 0 0 0 1" result="base"/>
<feTurbulence type="fractalNoise" baseFrequency="0.09" numOctaves="5" seed="38" result="n2"/>
<feColorMatrix in="n2" type="matrix" values="0 0 0 0 1  0 0 0 0 1  0 0 0 0 1  5 0 0 0 -3.3" result="white"/>
<feTurbulence type="turbulence" baseFrequency="0.045" numOctaves="1" seed="52" result="n3"/>
<feColorMatrix in="n3" type="matrix" values="0 0 0 0 0.08  0 0 0 0 0.08  0 0 0 0 0.08  0 0 0 0 0" result="lines"/>
<feComposite in="white" in2="base" operator="over" result="c1"/>
<feComposite in="lines" in2="c1" operator="over" result="c2"/>
<feGaussianBlur in="c2" stdDeviation="0.7"/>
</filter>
<filter id="spb1" x="-10%" y="-10%" width="120%" height="120%" color-interpolation-filters="sRGB">
<feTurbulence type="fractalNoise" baseFrequency="0.12" numOctaves="3" seed="71" result="t"/>
<feDisplacementMap in="SourceGraphic" in2="t" scale="14" xChannelSelector="R" yChannelSelector="G" result="d"/>
<feColorMatrix in="d" type="matrix" values="0 0 0 0 1  0 0 0 0 1  0 0 0 0 1  0 0 0 4 -1.2" result="w"/>
<feTurbulence type="fractalNoise" baseFrequency="0.3" numOctaves="2" seed="98" result="hf"/>
<feColorMatrix in="hf" type="matrix" values="0 0 0 0 1  0 0 0 0 1  0 0 0 0 1  3 0 0 0 -0.9" result="hfa"/>
<feComposite in="w" in2="hfa" operator="arithmetic" k1="0.3" k2="0.7" k3="0" k4="0" result="wt"/>
<feGaussianBlur in="wt" stdDeviation="0.5"/>
</filter>
<g id="texb1"><rect width="152" height="152" filter="url(#fb1)"/><path d="M0 105L-3.1 108.3 -4.9 111.7 -4.5 115 -2.2 118.4 1.1 121.8 3.9 125.1 5 128.5 3.9 131.8 1.1 135.2 -2.2 138.6 -4.5 141.9 -4.9 145.3 -3.1 148.6 -0 152M30.3 152L33.7 154.3 37 156.1 40.4 157 43.8 156.7 47.1 155.3 50.5 153.2 53.8 150.8 57.2 148.7 60.6 147.3 63.9 147 67.3 147.9 70.6 149.7 74 152M0 152L3.4 147.7 6.7 147.7 10.1 152 13.5 156.3 16.8 156.3 20.2 152 23.6 147.7 27 147.7 30.3 152M64 120.2L61.1 124.6 61.5 128 65.5 130.2 70.8 132 73.8 134.6 72.8 138.4 69.5 142.9 67.5 147.1 69.1 150 74 152M36.6 128.1L31.9 130.5 30.1 133.7 31.8 137.8 35.1 142.3 36.8 146.4 35 149.6 30.3 152M64 120.2L61.8 125.6 58.1 125.6 53.2 121.3 48.9 119.3 46.3 123.3 44.4 129.5 41.3 131.5 36.6 128.1M96.4 152L92.7 147.7 89 147.7 85.2 152 81.5 156.3 77.7 156.3 74 152M20.1 104L26 104.4 27.1 108 24.7 114.1 24.2 118.8 28.8 120.1 35.4 120 38.4 122.5 36.6 128.1M20.1 104L16.3 108.9 11.9 101.4 7.9 101.6 4.3 109.5 0 105M152 89.5L149.5 86.1 147.7 82.6 147 79.1 147.7 75.7 149.5 72.2 152 68.7 154.5 65.3 156.3 61.8 157 58.3 156.3 54.9 154.5 51.4 152 47.9M127.1 68.3L131.9 68.5 135.8 67.6 138.1 64.9 139.2 60.6 139.9 55.7 141 51.4 143.3 48.6 147.2 47.7 152 47.9M127.1 68.3L132.7 67.4 135.4 69.7 135.4 75.4 135.4 81 138.1 83.4 143.7 82.4 149.3 81.5 152 83.9 152 89.5M64 120.2L65.6 117.3 67.2 114.5 68.8 111.6M96.4 152L100.1 149.3 102.7 146.3 103.5 142.9 102.6 139.1 100.5 135 98.5 130.9 97.5 127.1 98.4 123.7 101 120.7 104.6 118M104.6 118L100.9 120.1 97.3 121.3 94 121.1 90.9 119.4 88.1 116.5 85.3 113.1 82.5 110.2 79.4 108.5 76.1 108.3 72.5 109.5 68.8 111.6M20.1 104L26.2 104.4 27.6 100.3 26 93.4 27.4 89.3 33.6 89.7M33.6 89.7L37.6 87.1 41.3 86 44.7 87.1 47.7 90.3 50.7 94.2 53.7 97.4 57.1 98.6 60.8 97.5 64.8 94.9M68.8 111.6L72.7 106.3 66.8 103.2 61 100.2 64.8 94.9M88.4 0L92 3.2 95.6 4.9 99.2 4.3 102.9 1.7 106.5 -1.7 110.1 -4.3 113.7 -4.9 117.3 -3.2 120.9 -0M152 147L156.3 148.7 147.7 150.3 152 152M152 96.9L149.1 100.2 147.2 103.5 147.2 106.9 149.1 110.2 152 113.6 154.9 116.9 156.8 120.3 156.8 123.6 154.9 127 152 130.3 149.1 133.6 147.2 137 147.2 140.3 149.1 143.7 152 147M96.4 152L99.7 153.8 103 155.4 106.2 156.5 109.5 157 112.8 156.8 116 156 119.3 154.6 122.6 152.9 125.8 151.1 129.1 149.4 132.4 148 135.7 147.2 138.9 147 142.2 147.5 145.5 148.6 148.7 150.2 152 152M108.4 115.2L112.7 114.9 116.6 115.4 119.4 117.2 121.4 120.3 122.6 124.3 123.6 128.7 125 132.5 127.2 135.1 130.5 136.4 134.5 136.6 138.9 136.3 143.2 136.2 146.7 137.1 149.3 139.3 150.9 142.8 152 147M104.6 118L108.5 120.5 104.5 112.6 108.4 115.2M152 96.9L148.1 94 144.5 93.2 141.5 95.3 138.9 99.4 136.3 103.5 133.3 105.6 129.8 104.8 125.8 101.9 121.9 99.1 118.3 98.3 115.3 100.4 112.7 104.5M112.7 104.5L107.3 106.4 113.8 113.2 108.4 115.2M152 96.9L147.7 94.4 156.3 92 152 89.5M140.9 41.4L146 38.6 146.9 48.1 152 45.2M140.9 41.4L136.2 37.4 133.8 43.1 131.4 48.8 126.7 44.8 122 40.7 119.7 46.4M152 47.9L152 47 152 46.1 152 45.2M127.1 68.3L122.2 67.5 117.2 66.7 112.3 65.9M112.3 65.9L109.3 60.3 118 59.1 119.5 55.2 113.7 48.6 119.7 46.4M128 19.5L126.5 24.6 127.5 28.2 131.6 30 137.2 30.9 141.4 32.7 142.4 36.3 140.9 41.4M125.3 18.9L126.2 19.1 127.1 19.3 128 19.5M125.3 18.9L124.5 24 116.3 19.5 118.5 28.6 113.3 28.1M119.7 46.4L122.9 41.2 119.9 38.1 113.1 36.4 110.1 33.3 113.3 28.1M88.4 0L84.5 4.7 88 7.7 94.8 9.8 95.7 13.4 90.6 18.4 88.8 22.7 94.5 25.1M125.3 18.9L129.1 14 120.7 12 119.8 8.2 126.4 2.7 120.9 -0M94.5 25.1L97.5 30.4 101.5 29.2 106.2 24 110.3 22.8 113.3 28.1M30.9 65.3L25.9 67.2 22.5 66.1 20.9 61.6 20 56 17.8 52.5 13.8 52.6 8.5 54.9 3.9 56.1 1.2 53.7 -0 48.5M0 105L-1.8 101.6 -3.4 98.3 -4.5 95 -5 91.7 -4.8 88.4 -4 85 -2.6 81.7 -0.9 78.4 0.9 75.1 2.6 71.8 4 68.4 4.8 65.1 5 61.8 4.5 58.5 3.4 55.2 1.8 51.8 0 48.5M33.6 89.7L38 85.7 35 82.5 28.5 79.7 28.2 76.2 33.8 72 36.1 68.3 30.9 65.3M134.9 17.6L140.6 14 143.5 20.1 146.3 26.1 152 22.5M134.9 17.6L133.3 12.3 135.3 9.3 140.8 8.8 146.4 8.3 148.4 5.4 146.8 0M152 22.5L157 18.8 152 15 147 11.3 152 7.5 157 3.8 152 -0M146.8 0L148.5 0 150.3 -0 152 0M128 19.5L130.3 18.9 132.6 18.2 134.9 17.6M152 45.2L157 41.4 152 37.7 147 33.9 152 30.1 157 26.3 152 22.5M120.9 -0L124.6 3.9 128.3 4.9 132 2.2 135.7 -2.2 139.4 -4.9 143.1 -3.9 146.8 -0M72.5 82.8L75.8 78.3 79.3 78.1 83.1 82.2 86.8 86.4 90.3 86.2 93.6 81.7 96.8 77.2 100.3 77 104.1 81.1M72.5 82.8L68 80.7 66 77.8 67.3 74 70.3 69.7 72.5 65.7 71.6 62.5 67.7 60.2 62.8 58.2 59.8 55.6 60 52.1 62.8 47.9M62.8 47.9L65.4 42.2 71.5 48.4 75.5 47.3 77.3 38.8 82.6 42.2M82.6 42.2L83.4 46.4 84.8 50.1 87.2 52.6 90.5 53.9 94.7 54.3 99.1 54.4 103.2 54.8 106.6 56.1 108.9 58.6 110.4 62.2 111.2 66.5M104.1 81.1L110.3 79.7 107.6 73.8 104.9 67.9 111.2 66.5M112.7 104.5L106.9 102.8 108.2 98.5 112.7 93.1 111.4 89.8 104.5 88.5 100.7 86.2 104.1 81.1M64.8 94.9L63.8 88.5 73.6 89.2 72.5 82.8M30.9 65.3L32 60 34.8 57.6 39.5 58.6 44.8 60.8 48.9 60.8 51 57.2 51.9 51.6 53.5 47 56.9 45.9 62 47.6M94.5 25.1L88.2 25.8 87.3 30.3 89.7 37 88.8 41.5 82.6 42.2M-0 -0L3.2 -2.8 6.4 -4.6 9.6 -4.9 12.8 -3.5 15.9 -1 19.1 1.9 22.3 4.2 25.5 5 28.7 4.2 31.9 1.9 35.1 -1 38.3 -3.5 41.5 -4.9 44.7 -4.6 47.8 -2.8 51 -0M-0 -0L2.7 3.4 4.5 6.9 4.9 10.3 3.8 13.7 1.4 17.2 -1.4 20.6 -3.8 24 -4.9 27.5 -4.5 30.9 -2.7 34.3 -0 37.8M48.2 22.3L45.6 25.3 42.9 27.9 40 29.9 36.9 31.2 33.5 31.6 29.8 31.3 26 30.5 22.2 29.6 18.4 28.8 14.8 28.5 11.3 28.9 8.2 30.1 5.3 32.2 2.6 34.8 -0 37.8M48.2 22.3L53 19.1 53.5 15.4 49.6 11.1 45.8 6.9 46.3 3.2 51 -0M62 47.6L56.3 46.7 55.5 43 58.5 37.2 59.5 32.6 55.1 30.9 48.6 30.3 45.9 27.7 48.2 22.3M0 48.5L0 44.9 -0 41.4 0 37.8M88.4 0L85 -3.8 81.6 -4.9 78.2 -2.7 74.8 1.4 71.4 4.5 68 4.5 64.6 1.4 61.2 -2.7 57.8 -4.9 54.4 -3.8 51 -0" fill="none" stroke="#141414" stroke-width="2.2" stroke-opacity="0.65" stroke-linejoin="round"/><circle cx="22.5" cy="98.5" r="13" fill="url(#gk)" opacity="0.4"/><circle cx="73.4" cy="98.5" r="12" fill="url(#gk)" opacity="0.3"/><g filter="url(#spb1)"><circle cx="80" cy="9.3" r="13.7" fill="url(#gw)"/><circle cx="96.4" cy="29.7" r="19.8" fill="url(#gw)"/><circle cx="31.4" cy="62.8" r="25.2" fill="url(#gw)"/><circle cx="40.3" cy="79.4" r="14.4" fill="url(#gw)"/><circle cx="121.8" cy="85.8" r="16.2" fill="url(#gw)"/><circle cx="114.2" cy="116.3" r="10.8" fill="url(#gw)"/><circle cx="72.2" cy="143" r="14.4" fill="url(#gw)"/><circle cx="58" cy="101" r="9.0" fill="url(#gw)"/><circle cx="130.8" cy="136.7" r="10.8" fill="url(#gw)"/><circle cx="26.3" cy="19.5" r="9.0" fill="url(#gw)"/><circle cx="137" cy="28.4" r="9.0" fill="url(#gw)"/><circle cx="8.5" cy="108.7" r="10.8" fill="url(#gw)"/></g></g>
<filter id="fb2" x="0" y="0" width="100%" height="100%" color-interpolation-filters="sRGB">
<feTurbulence type="fractalNoise" baseFrequency="0.06" numOctaves="4" seed="27" result="n1"/>
<feColorMatrix in="n1" type="matrix" values="1.0 0 0 0 -0.22  1.0 0 0 0 -0.22  1.0 0 0 0 -0.22  0 0 0 0 1" result="base"/>
<feTurbulence type="fractalNoise" baseFrequency="0.09" numOctaves="5" seed="44" result="n2"/>
<feColorMatrix in="n2" type="matrix" values="0 0 0 0 1  0 0 0 0 1  0 0 0 0 1  5 0 0 0 -3.5" result="white"/>
<feTurbulence type="turbulence" baseFrequency="0.05" numOctaves="1" seed="58" result="n3"/>
<feColorMatrix in="n3" type="matrix" values="0 0 0 0 0.08  0 0 0 0 0.08  0 0 0 0 0.08  0 0 0 0 0" result="lines"/>
<feComposite in="white" in2="base" operator="over" result="c1"/>
<feComposite in="lines" in2="c1" operator="over" result="c2"/>
<feGaussianBlur in="c2" stdDeviation="0.7"/>
</filter>
<filter id="spb2" x="-10%" y="-10%" width="120%" height="120%" color-interpolation-filters="sRGB">
<feTurbulence type="fractalNoise" baseFrequency="0.12" numOctaves="3" seed="77" result="t"/>
<feDisplacementMap in="SourceGraphic" in2="t" scale="14" xChannelSelector="R" yChannelSelector="G" result="d"/>
<feColorMatrix in="d" type="matrix" values="0 0 0 0 1  0 0 0 0 1  0 0 0 0 1  0 0 0 4 -1.2" result="w"/>
<feTurbulence type="fractalNoise" baseFrequency="0.3" numOctaves="2" seed="104" result="hf"/>
<feColorMatrix in="hf" type="matrix" values="0 0 0 0 1  0 0 0 0 1  0 0 0 0 1  3 0 0 0 -0.9" result="hfa"/>
<feComposite in="w" in2="hfa" operator="arithmetic" k1="0.5" k2="0.5" k3="0" k4="0" result="wt"/>
<feGaussianBlur in="wt" stdDeviation="0.5"/>
</filter>
<g id="texb2"><rect width="152" height="152" filter="url(#fb2)"/><path d="M0 118.1L-1.8 121.4 -2.9 124.8 -2.9 128.2 -1.8 131.6 -0 135 1.8 138.4 2.9 141.8 2.9 145.2 1.8 148.6 0 152M0 118.1L1.4 114.7 2.5 111.3 3 107.9 2.8 104.5 2 101.1 0.7 97.7 -0.7 94.3 -2 90.9 -2.8 87.6 -3 84.2 -2.5 80.8 -1.4 77.4 -0 74M21.6 115.7L21.9 120.4 26.5 120.9 31.1 121.5 31.4 126.2 31.6 130.9 36.3 131.4M21.6 115.7L18.3 119.1 14.4 116.5 10.5 113.9 7.2 117.3 3.9 120.6 0 118.1M0 152L3.4 153.8 6.7 154.9 10.1 154.9 13.5 153.8 16.9 152 20.2 150.2 23.6 149.1 27 149.1 30.3 150.2 33.7 152M36.3 131.4L38.6 135.9 37 139.9 33 143.6 31.4 147.5 33.7 152M105.1 110.5L107 114.8 105.1 118.3 100.8 121.2 98.9 124.7 100.8 129.1M105.1 110.5L108.9 113.2 112.7 112 116.4 108.4 120.2 107.2 124.1 110M100.8 129.1L105 127.7 108.4 128.8 111 132.4 113.6 135.9 117 137 121.2 135.6M121.2 135.6L123 133.4 124.7 131.2 126.5 129M126.5 129L123.2 125.6 127.3 121.2 126.8 117.4 121.8 114.2 124.1 110M56.6 98.9L58.7 103.1 62.8 103.3 67.7 101.6 71.1 103.2 72.9 108.1 75.6 111.2 80.3 110.2M94.6 99.6L92.8 104.7 87.5 104.9 82.1 105.1 80.3 110.2M94.6 99.6L94.7 98.1 94.8 96.6 94.8 95M94.8 95L94.6 90.4 90 90 85.4 89.5 85.1 84.9 84.8 80.3 80.3 79.8M80.3 79.8L78.7 83.3 76.6 86.1 73.7 87.8 70 88.5 66.1 88.8 62.5 89.4 59.6 91.1 57.5 93.9 55.9 97.4M94.6 99.6L99.4 100.2 99.8 105 100.3 109.8 105.1 110.5M126.1 107.7L125.4 108.5 124.8 109.2 124.1 110M94.8 95L96.5 90.9 99.2 88.1 103.2 87.2 107.8 87 111.8 86 114.5 83.3 116.1 79.1M126.1 107.7L123.2 103.3 126.4 99.1 129.6 94.9 126.7 90.5M126.7 90.5L122.5 89.1 123.6 82.8 117.2 83.4 116.1 79.1M97.6 61.5L94.8 65.2 90.1 61.6 86.5 62.6 84.1 68 79.8 66.2M80.3 79.8L82.7 75.2 77.4 70.8 79.8 66.2M97.6 61.5L102.4 61.2 103.8 65.8 105.1 70.4 110 70.2 114.8 69.9 116.1 74.5M116.1 79.1L116.1 77.6 116.1 76.1 116.1 74.5M126.1 107.7L130.1 105.8 133.8 105.7 137.3 107.7 140.7 110.8 144.2 112.8 148 112.7 152 110.8M152 110.8L149.7 107.1 149.1 103.4 150.7 99.7 153.3 96.1 154.9 92.4 154.3 88.7 152 85M126.7 90.5L129.8 87.4 133.3 86.1 137.3 86.9 141.4 88.6 145.4 89.4 148.9 88.1 152 85M152 131.4L154.9 127.3 150.2 123.2 150.2 119 154.9 114.9 152 110.8M126.5 129L130 131.7 133.5 132.6 137.3 131.3 141.2 129.1 145 127.8 148.6 128.7 152 131.4M152 64.4L149.1 68.5 153.8 72.6 153.8 76.7 149.1 80.9 152 85M126.1 63.7L129.9 60.9 133.5 62.6 137.2 66.3 140.9 66.4 144.6 62.9 148.4 61.3 152 64.4M126.1 63.7L120.9 65.6 121.4 72.7 116.1 74.5M32.6 94.5L37.5 93.6 42.4 92.8 47.2 91.9M32.6 94.5L32 90 29 88 24.2 87.9 20.3 86.8 19 83 18.7 78.1 16.6 75.2 12.1 74.7M47.2 91.9L45.4 87.9 45.2 84.1 47.3 80.6 50.3 77.1 52.4 73.6 52.3 69.8 50.4 65.7M12.1 74.7L16.2 74.4 19 72.5 20.3 68.9 21.1 64.7 22.8 61.6 26.1 60.3 30.4 60.2 34.2 59.4 36.4 56.9 37.3 52.9M37.3 52.9L38 57.5 41.3 59.3 46.4 59.4 49.8 61.1 50.4 65.7M53.1 123.7L48.6 122.7 45.6 125.2 43.7 130 40.8 132.5 36.3 131.4M53.1 123.7L50.7 119.8 52.8 116.5 56.9 113.4 57.4 109.9 54.3 105.8 53.2 102 56.6 98.9M21.6 115.7L26.1 113.5 25.3 108.6 24.5 103.7 29 101.5 33.5 99.4 32.6 94.5M55.9 97.4L51.6 97.8 51.5 91.6 47.2 91.9M-0 74L3.9 76.8 8.2 71.9 12.1 74.7M79.8 66.2L76.5 66.7 78.3 61.3 74.9 61.9M74.9 61.9L71.1 60.1 67.5 60.1 64.2 62.2 61.1 65.4 57.9 67.5 54.3 67.5 50.4 65.7M0 33.8L-1.8 30.4 -2.9 27 -2.9 23.6 -1.8 20.3 -0 16.9 1.8 13.5 2.9 10.1 2.9 6.8 1.8 3.4 0 0M-0 74L-2.1 70.7 -3 67.3 -2.1 64 -0 60.6 2.1 57.2 3 53.9 2.1 50.5 -0 47.2 -2.1 43.8 -3 40.5 -2.1 37.1 -0 33.8M79.6 120.8L84.4 121.1 86.7 124.3 87.4 129.5 89.7 132.8 94.5 133M79.6 120.8L77.1 125 70.6 123.1 69.8 129.8 65 130.4M68.8 146.4L70.8 142.3 74.2 141.3 78.9 142.6 82.9 142.7 85.3 139.4 87 134.9 89.9 132.7 94.3 133.6M68.8 146.4L69.9 141.9 64 139.1 68 133.9 65 130.4M80.3 110.2L80 113.7 79.8 117.3 79.6 120.8M100.8 129.1L98.7 130.4 96.6 131.7 94.5 133M53.1 123.7L57.1 125.9 61 128.2 65 130.4M33.7 152L37.1 153.8 40.5 154.9 43.9 154.9 47.3 153.8 50.7 152 54.2 150.2 57.6 149.1 61 149.1 64.4 150.2 67.8 152M67.8 152L68.1 150.1 68.5 148.3 68.8 146.4M152 131.4L154.9 135.5 150.2 139.6 150.2 143.8 154.9 147.9 152 152M97.6 61.5L101 58 97.5 52.2 103.7 49.7 103.1 44.9M126.1 63.7L127.7 59.8 127.6 56.3 125.3 53.2 122 50.4 119.7 47.3 119.6 43.7 121.1 39.9M103.1 44.9L105.9 41.1 110.8 44.6 114.4 43.6 116.8 38.1 121.1 39.9M152 0L154.3 3.4 155 6.7 153.6 10.1 151.2 13.5 149.3 16.9 149.3 20.2 151.2 23.6 153.6 27 155 30.3 154.3 33.7 152 37.1M152 64.4L154.8 60.9 154.1 57.5 150.9 54.1 149 50.7 150.9 47.3 154.1 43.9 154.8 40.5 152 37.1M121.9 152L118.4 154.9 114.9 153.3 111.4 149.7 108 149.7 104.5 153.3 101 154.9 97.5 152M152 152L148.7 154.6 145.3 154.6 142 152 138.6 149.4 135.3 149.4 131.9 152 128.6 154.6 125.2 154.6 121.9 152M94.3 133.6L97.8 136.8 93.9 141.3 94.5 144.9 99.7 147.8 97.5 152M121.2 135.6L123.5 139.6 118.5 144 123.8 147.8 121.9 152M67.8 152L71.5 154.1 75.2 155 78.9 154.1 82.7 152 86.4 149.9 90.1 149 93.8 149.9 97.5 152M67.7 6L67.1 4 66.6 2 66 -0M66 0L62.3 -2.6 58.7 -2.6 55 0 51.3 2.6 47.7 2.6 44 0 40.3 -2.6 36.7 -2.6 33 0M67.7 6L63.8 8.2 62.9 11.8 64.5 16.4 64.8 20.4 61.7 23 57.3 25 55.3 28 56.4 32.4M34.6 35.8L36.2 32.2 37.1 28.5 37 24.9 35.7 21.4 33.8 17.9 31.9 14.4 30.6 10.9 30.5 7.3 31.4 3.7 33 0M56.4 32.4L53.2 36.2 48.9 36.2 44.1 33.9 39.8 33.9 36.6 37.7M34.6 35.8L37.1 34.6 34.2 39 36.6 37.7M0 33.8L3.6 31.6 7.1 31.3 10.4 33.5 13.7 36.4 17.1 37.8 20.7 36.8 24.3 34.3 27.9 32.6 31.3 33.2 34.6 35.8M0 0L3.7 -2.6 7.3 -2.6 11 0 14.7 2.6 18.3 2.6 22 0 25.7 -2.6 29.3 -2.6 33 0M73.8 42.5L68.9 42.9 67.7 36.9 64.2 34.9 58.5 36.9 56.4 32.4M74.9 61.9L77.6 57.8 72.7 54.2 72.5 50.3 76.9 46.2 73.8 42.5M37.3 52.9L40.2 49 37 45.3 33.8 41.6 36.6 37.7M73.8 42.5L78.9 42.4 80.5 37.6 82.1 32.7 87.2 32.7M67.7 6L69.7 10 75.8 8.2 76 14.6 80.4 15.2M80.4 15.2L79.1 19.7 81.5 22.8 86.1 25 88.5 28.1 87.2 32.7M103.1 44.9L97.8 44.1 96.5 38.9 95.2 33.7 89.9 33M87.2 32.7L88.1 32.8 89 32.9 89.9 33M106.7 17.5L106.1 13.6 105.5 9.8 104.8 6M106.7 17.5L110.9 17.9 113.9 19.7 115.5 23.2 116.5 27.5 118.1 31 121.2 32.8 125.4 33.3M134.6 0L131.1 2.8 127.6 2.1 124.1 -1.1 120.6 -3 117 -1.1 113.5 2.1 110 2.8 106.5 0M125.9 33L125 29.3 124.9 25.7 125.7 22.4 127.7 19.4 130.2 16.5 132.8 13.7 134.7 10.6 135.6 7.3 135.4 3.8 134.6 0M104.8 6L105.4 4 106 2 106.5 -0M80.4 15.2L82.9 11.1 87 11.3 91.7 13.4 95.2 12.1 97.4 7.4 100.3 4.6 104.8 6M89.9 33L94.5 32.3 97.3 29.7 98.3 25.2 99.3 20.7 102.1 18.1 106.7 17.5M121.1 39.9L122.6 37.7 124 35.5 125.4 33.3M152 0L147.6 3 143.3 0 138.9 -3 134.6 0M152 37.1L147.8 39.4 144.3 37.2 141.2 33 137.4 32.5 133.1 35.5 129.2 36.5 125.9 33M66 0L69.4 1.5 72.7 2.6 76.1 3 79.5 2.6 82.9 1.5 86.3 0 89.6 -1.5 93 -2.6 96.4 -3 99.8 -2.6 103.2 -1.5 106.5 -0" fill="none" stroke="#141414" stroke-width="1.6" stroke-opacity="0.45" stroke-linejoin="round"/><circle cx="74.3" cy="57.7" r="22" fill="url(#gk)" opacity="0.35"/><g filter="url(#spb2)"><circle cx="74.3" cy="32.2" r="7.5" fill="url(#gw)"/><circle cx="104.9" cy="34.8" r="9.0" fill="url(#gw)"/><circle cx="10.7" cy="98.4" r="9.0" fill="url(#gw)"/><circle cx="107.4" cy="80.6" r="6.0" fill="url(#gw)"/><circle cx="48.9" cy="136.6" r="7.5" fill="url(#gw)"/><circle cx="140.5" cy="126.4" r="7.5" fill="url(#gw)"/><circle cx="5.6" cy="34.8" r="6.0" fill="url(#gw)"/><circle cx="145.6" cy="27.2" r="7.5" fill="url(#gw)"/><circle cx="43.8" cy="80.6" r="7.5" fill="url(#gw)"/><circle cx="23.4" cy="19.5" r="6.0" fill="url(#gw)"/></g></g>
<filter id="fb3" x="0" y="0" width="100%" height="100%" color-interpolation-filters="sRGB">
<feTurbulence type="fractalNoise" baseFrequency="0.06" numOctaves="4" seed="33" result="n1"/>
<feColorMatrix in="n1" type="matrix" values="1.0 0 0 0 -0.24  1.0 0 0 0 -0.24  1.0 0 0 0 -0.24  0 0 0 0 1" result="base"/>
<feTurbulence type="fractalNoise" baseFrequency="0.09" numOctaves="5" seed="50" result="n2"/>
<feColorMatrix in="n2" type="matrix" values="0 0 0 0 1  0 0 0 0 1  0 0 0 0 1  5 0 0 0 -3.5" result="white"/>
<feTurbulence type="turbulence" baseFrequency="0.05" numOctaves="1" seed="64" result="n3"/>
<feColorMatrix in="n3" type="matrix" values="0 0 0 0 0.08  0 0 0 0 0.08  0 0 0 0 0.08  0 0 0 0 0" result="lines"/>
<feComposite in="white" in2="base" operator="over" result="c1"/>
<feComposite in="lines" in2="c1" operator="over" result="c2"/>
<feGaussianBlur in="c2" stdDeviation="0.7"/>
</filter>
<filter id="spb3" x="-10%" y="-10%" width="120%" height="120%" color-interpolation-filters="sRGB">
<feTurbulence type="fractalNoise" baseFrequency="0.12" numOctaves="3" seed="83" result="t"/>
<feDisplacementMap in="SourceGraphic" in2="t" scale="14" xChannelSelector="R" yChannelSelector="G" result="d"/>
<feColorMatrix in="d" type="matrix" values="0 0 0 0 1  0 0 0 0 1  0 0 0 0 1  0 0 0 4 -1.2" result="w"/>
<feTurbulence type="fractalNoise" baseFrequency="0.3" numOctaves="2" seed="110" result="hf"/>
<feColorMatrix in="hf" type="matrix" values="0 0 0 0 1  0 0 0 0 1  0 0 0 0 1  3 0 0 0 -0.9" result="hfa"/>
<feComposite in="w" in2="hfa" operator="arithmetic" k1="0.5" k2="0.5" k3="0" k4="0" result="wt"/>
<feGaussianBlur in="wt" stdDeviation="0.5"/>
</filter>
<g id="texb3"><rect width="152" height="152" filter="url(#fb3)"/><path d="M13.9 69.3L13.4 73.5 15.1 76.4 19.1 78 23 79.5 24.8 82.4 24.3 86.6 23.7 90.8 25.5 93.7 29.4 95.2M29.4 95.2L32.2 97.6 34.2 92.1 37 94.4M13.9 69.3L16.8 66.8 19.7 64.2 22.5 61.7M44.1 73.9L42.8 69.1 36 69 37 62.3 32.4 60.2M44.1 73.9L43.7 78.8 43.3 83.7 42.8 88.7M32.4 60.2L29.1 60.7 25.8 61.2 22.5 61.7M42.8 88.7L39.1 88.7 40.7 94.4 37 94.4M42.8 88.7L46.3 91.8 50 90.4 53.8 86.9 57.4 87.1 60.8 91 64.3 92.8 68.1 90.1M68.1 90.1L70.6 86.5 70.6 83 67.9 79.6 65.2 76.1 65.1 72.6 67.7 69M44.1 73.9L48.6 75 51.5 72.5 53.4 67.8 56.3 65.3 60.8 66.4M60.8 66.4L63.1 67.3 65.4 68.2 67.7 69M152 25.5L154.3 28.9 155 32.4 153.6 35.9 151.2 39.3 149.3 42.8 149.3 46.3 151.2 49.7 153.6 53.2 155 56.7 154.3 60.1 152 63.6M120.9 30.3L124 27.9 127.3 26.3 130.8 26.1 134.5 27.1 138.3 28.6 142 29.6 145.5 29.5 148.8 27.9 152 25.5M120.9 30.3L118.7 33.7 116.6 37 114.4 40.4M144.2 64.2L146.8 64 149.4 63.8 152 63.6M144.2 64.2L142.6 60.2 139.6 58.4 135.3 58.8 130.9 59.2 128 57.4 126.3 53.3 124.7 49.3 121.7 47.5 117.4 47.9M114.4 40.4L115.4 42.9 116.4 45.4 117.4 47.9M152 104.5L149.9 101.1 149 97.7 149.9 94.3 152 90.9 154.1 87.4 155 84 154.1 80.6 152 77.2 149.9 73.8 149 70.4 149.9 67 152 63.6M126.6 99.7L130.6 98.1 134.4 98.2 137.7 100.5 140.9 103.7 144.2 106 147.9 106.1 152 104.5M126.6 99.7L127.7 95.1 121.7 92.2 125.7 87 122.7 83.4M122.7 83.4L126.8 82.6 130.1 80.8 132.2 77.8 133.5 73.8 134.7 69.8 136.8 66.8 140.1 65 144.2 64.2M106.3 75.1L108.3 79.3 113.7 76.8 116.9 78.5 118.1 84.2 122.7 83.4M106.3 75.1L105.7 70.9 106.3 67.1 108.5 64.1 111.9 61.5 115.2 58.9 117.4 55.8 118 52.1 117.4 47.9M33.1 59.4L36.6 56.1 35.7 52 32.7 47.6 33.3 43.8 37.5 40.7 39.7 37.1 37.5 32.9M33.1 59.4L35.6 55.3 40.1 56.9 44.6 58.4 47.1 54.4 49.5 50.3 54 51.9M37.5 32.9L42 31.7 44 36 45.9 40.3 50.5 39.1 55 38 57 42.3M54 51.9L57.5 49.4 53.5 44.7 57 42.3M60.8 66.4L57.2 63.7 60.1 57.9 53.8 56.4 54 51.9M55 9.7L58 12.8 61 15.8 63.9 18.9M55 9.7L54.2 13.7 52.4 16.9 49.4 18.9 45.4 20 41.5 21.1 38.4 23.1 36.7 26.3 35.8 30.3M35.8 30.3L36.4 31.2 36.9 32 37.5 32.9M57 42.3L59 41.3 61 40.3 63 39.3M63.9 18.9L66.6 23.1 61.8 27 61.6 31.1 66 35.4 63 39.3M86 63.3L85.4 59 87.6 56.4 92.2 55.1 95.5 53.1 95.6 49.3 94.6 44.7 95.7 41.4 99.8 39.9M86 63.3L83.2 65.6 81.4 60.1 78.7 62.4M78.7 62.4L74.6 60.1 76.2 55.7 77.8 51.3 73.8 49 69.8 46.7 71.4 42.4M71.4 42.4L75.9 43.4 77.6 39.1 79.3 34.9 83.8 35.9 88.3 36.9 90 32.7M99.8 39.9L95 39.6 94.8 33 90 32.7M114.4 40.4L109.6 40.2 104.7 40 99.8 39.9M98.8 76.7L101.3 76.2 103.8 75.6 106.3 75.1M98.8 76.7L98.3 72.1 92.4 72.6 89.9 69.9 90.6 64 86 63.3M98.8 76.7L99.7 81.6 95.2 83.7 90.7 85.8 91.6 90.7M67.7 69L70 64.6 76.3 66.8 78.7 62.4M68.1 90.1L71.5 89.9 69 95 72.3 94.8M91.6 90.7L88.3 94.3 84.2 94.1 79.7 91.4 75.6 91.2 72.3 94.8M63 39.3L65.8 40.3 68.6 41.4 71.4 42.4M63.9 18.9L67.7 21.4 71.5 21.3 75.1 18.6 78.8 15.9 82.5 15.8 86.3 18.3M86.3 18.3L87.6 23.1 88.8 27.9 90 32.7M95.5 0L96.2 4.9 93.4 8.1 88.4 10.2 85.6 13.4 86.3 18.3M111.2 -0L107.2 3 103.3 -0 99.4 -3 95.5 0M120.9 30.3L117.3 27.7 116.2 24.4 117.6 20.2 119 16 117.9 12.7 114.4 10.1 110.8 7.5 109.8 4.2 111.2 -0M91.6 90.7L91.7 94.6 92.6 98.1 94.7 100.8 97.9 102.9 101.4 104.7 104.5 106.8 106.6 109.6 107.6 113 107.7 117M126.6 99.7L126.2 104.3 122.5 105.7 117.5 105.7 115 108.2 115.1 113.3 113.8 117 109.2 117.5M72.3 94.8L68.7 97.8 72.5 102.4 71.7 106 66.4 108.6 68.3 112.9M68.3 112.9L70.2 117.3 76 115.5 79.3 117.5 80.2 123.5 85.1 123.2M107.7 117L103.1 115.1 100.2 119 97.2 123 92.6 121.1 88.1 119.2 85.1 123.2M25.7 125.5L22.2 126.7 19.1 128.2 16.6 130.4 14.7 133.2 13.4 136.5 12.3 140 10.9 143.3 9.1 146.1 6.6 148.2 3.5 149.8 0 150.9M0 150.9L1.3 147.7 2.3 144.5 2.9 141.2 2.9 138 2.3 134.8 1.3 131.6 0 128.4 -1.3 125.1 -2.3 121.9 -2.9 118.7 -2.9 115.5 -2.3 112.2 -1.3 109 0 105.8M25.7 125.5L26.6 120.6 20.7 118.7 19.1 115 21.6 109.4 17.4 106.7M17.4 106.7L12.9 108.6 8.8 103.3 4.2 108.1 0 105.8M0 70.4L2.4 74 2.9 77.5 0.9 81 -1.8 84.6 -3 88.1 -1.8 91.6 0.9 95.2 2.9 98.7 2.4 102.2 0 105.8M13.9 69.3L9.3 69.7 4.6 70.1 0 70.4M29.4 95.2L24.9 96.6 25.5 103.2 18.9 102.3 17.4 106.7M37.7 129.4L41.3 132.6 39.1 136.9 36.9 141.3 40.5 144.5 44.2 147.7 42 152M37.7 129.4L42.4 129.5 44.9 126.4 45.9 121.3 48.3 118.2 53.1 118.3M53.1 118.3L54.7 115.8 55.8 121.1 57.5 118.6M57.5 118.6L60.7 121.3 62.1 124.5 61.2 128.3 59.5 132.4 59.3 136.1 61.4 139.1 65 141.7 67.8 144.5 68.3 148 66.9 152M66.9 152L63.4 149.7 59.8 149.1 56.2 150.7 52.7 153.3 49.1 154.9 45.5 154.3 42 152M0 152L3.5 150.5 7 149.4 10.5 149 14 149.4 17.5 150.5 21 152 24.5 153.5 28 154.6 31.5 155 35 154.6 38.5 153.5 42 152M25.7 125.5L29.7 126.8 33.7 128.1 37.7 129.4M37 94.4L37.2 98.6 38.5 102.1 41.2 104.6 45 106.4 48.8 108.2 51.5 110.6 52.8 114.1 53.1 118.3M68.3 112.9L64.7 114.8 61.1 116.7 57.5 118.6M78.3 152L74.5 154.6 70.7 149.4 66.9 152M85.1 123.2L86.3 127.2 86.3 131.1 84.6 134.5 81.7 137.6 78.8 140.7 77.1 144.1 77.1 147.9 78.3 152M35.8 30.3L32.2 29.2 28.5 28.1 24.8 27M22.5 61.7L24 57.2 22.2 53.9 17.9 51.4 15 48.4 15.6 44.3 17.5 39.7 16.9 36 13.1 33.3M13.1 33.3L17 31.2 20.9 29.1 24.8 27M55 9.7L54.5 6.5 54.1 3.2 53.6 0M24.8 27L21.8 23.9 22.2 20.4 25.2 16.8 26.8 13.3 24.7 10 21.2 6.9 20.3 3.6 22.8 0M22.8 0L26.2 -1.9 29.6 -3 33.1 -2.6 36.5 -1 39.9 1 43.3 2.6 46.8 3 50.2 1.9 53.6 0M95.5 0L92 1.5 88.5 2.6 85 3 81.5 2.6 78 1.5 74.6 0 71.1 -1.5 67.6 -2.6 64.1 -3 60.6 -2.6 57.1 -1.5 53.6 0M111.2 -0L114.6 2.1 118 3 121.4 2.1 124.8 -0 128.2 -2.1 131.6 -3 135 -2.1 138.4 -0 141.8 2.1 145.2 3 148.6 2.1 152 0M152 25.5L149.1 21.8 150.7 18.2 154.3 14.6 154.3 10.9 150.7 7.3 149.1 3.6 152 0M152 104.5L149.4 108 149.4 111.6 152 115.1 154.6 118.7 154.6 122.3 152 125.8 149.4 129.4 149.4 132.9 152 136.5M109.2 117.5L109.9 118.9 110.6 120.4 111.3 121.8M111.3 121.8L115.1 121.1 118.6 121.3 121.6 122.9 124.1 125.6 126.5 128.8 129.2 131.2 132.3 132.3 135.9 132.1 139.7 131.3 143.5 130.8 146.8 131.4 149.5 133.5 152 136.5M78.3 152L81.7 153.9 85.1 155 88.4 154.6 91.8 153 95.2 151 98.5 149.4 101.9 149 105.2 150.1 108.6 152M111.3 121.8L109.1 125 107.8 128.3 107.8 131.6 109.1 135.1 110.8 138.7 112.1 142.2 112.2 145.6 110.8 148.8 108.6 152M152 136.5L149.9 140.4 155 144.2 149.9 148.1 152 152M108.6 152L111.9 150 115.3 149 118.6 149.5 122 151.3 125.3 153.4 128.6 154.8 132 154.8 135.3 153.4 138.6 151.3 142 149.5 145.3 149 148.7 150 152 152M22.8 0L19 -2.6 15.2 -2.6 11.4 0 7.6 2.6 3.8 2.6 -0 0M13.1 33.3L8.6 35.6 4.5 30.2 0 32.5M0 0L-1.9 3.6 -3 7.2 -2.6 10.8 -1 14.4 1 18 2.6 21.6 3 25.3 1.9 28.9 0 32.5M0 70.4L2.3 67 3 63.5 1.6 60.1 -0.8 56.6 -2.7 53.2 -2.7 49.7 -0.8 46.3 1.6 42.8 3 39.4 2.3 35.9 0 32.5" fill="none" stroke="#141414" stroke-width="1.6" stroke-opacity="0.45" stroke-linejoin="round"/><circle cx="36" cy="73" r="19" fill="url(#gk)" opacity="0.35"/><circle cx="124.6" cy="45.6" r="15" fill="url(#gk)" opacity="0.3"/><g filter="url(#spb3)"><circle cx="103" cy="71" r="16.5" fill="url(#gw)"/><circle cx="115.7" cy="76" r="12.0" fill="url(#gw)"/><circle cx="53.7" cy="8.9" r="7.5" fill="url(#gw)"/><circle cx="42.3" cy="10.2" r="6.0" fill="url(#gw)"/><circle cx="56.2" cy="31.7" r="6.8" fill="url(#gw)"/><circle cx="66.4" cy="44.3" r="6.8" fill="url(#gw)"/><circle cx="19.5" cy="48.1" r="6.0" fill="url(#gw)"/><circle cx="95.5" cy="108.9" r="9.0" fill="url(#gw)"/><circle cx="124.6" cy="112.7" r="6.8" fill="url(#gw)"/><circle cx="68.9" cy="98.8" r="7.5" fill="url(#gw)"/><circle cx="11.9" cy="138" r="6.0" fill="url(#gw)"/><circle cx="129.6" cy="8.9" r="6.8" fill="url(#gw)"/><circle cx="128.4" cy="25.3" r="4.5" fill="url(#gw)"/><circle cx="79" cy="2.6" r="7.5" fill="url(#gw)"/></g></g>
<clipPath id="cl"><rect width="151.2" height="151"/></clipPath>
<g id="yb1" clip-path="url(#cl)" fill="none" stroke-linecap="round" stroke-linejoin="round">
<path d="M120.7 0.2C121 1 121.6 3.6 122.6 4.9C123.5 6.2 124.9 7.4 126.3 8C127.8 8.7 129.6 9 131.4 8.7C133.1 8.3 135.7 7.3 137 6.1C138.4 5 139 2.7 139.5 1.7C140.1 0.7 140.1 0.4 140.2 0.2" stroke-width="2.2" stroke-opacity="0.45"/>
<path d="M151.2 1.1C150.6 2 148 4.5 147.7 6.1C147.4 7.8 149.9 9.9 149.6 11.2C149.3 12.4 146.7 12.6 145.8 13.7C145 14.7 144.8 16.8 144.6 17.5" stroke-width="2.2" stroke-opacity="0.45"/>
<path d="M123.2 25.6C123.4 24.7 123.1 21.3 124.5 20C125.8 18.6 129.2 17.7 131.4 17.5C133.6 17.2 136 17.9 137.7 18.7C139.3 19.6 140.6 21 141.4 22.5C142.3 24 143 26.3 142.7 27.5C142.4 28.8 139.5 29.4 139.5 30C139.5 30.7 140.7 31.1 142.7 31.3C144.6 31.5 149.8 31.3 151.2 31.3" stroke-width="2.2" stroke-opacity="0.45"/>
<path d="M133.9 74.6C133.8 75.4 134.1 78.2 133.3 79.6C132.4 81.1 129.7 81.8 128.9 83.4C128 85 128 87.1 128.2 89.1C128.4 91 129.2 93.9 130.1 95.3C131.1 96.8 132.7 97.9 133.9 97.9C135 97.9 136.3 96.5 137 95.3C137.8 94.2 137.4 92.1 138.3 90.9C139.1 89.8 140.5 88.7 142.1 88.4C143.6 88.1 146.2 88.6 147.7 89.1C149.2 89.5 150.6 90.6 151.2 90.9" stroke-width="2.2" stroke-opacity="0.45"/>
<path d="M135.1 123.6C135.6 122.8 136.9 120.5 137.7 118.6C138.4 116.7 139.4 114.4 139.5 112.3C139.6 110.2 138 107.9 138.3 106C138.6 104.1 139.5 102.6 141.4 101C143.3 99.4 148.2 97.3 149.6 96.6" stroke-width="2.2" stroke-opacity="0.45"/>
<path d="M8.8 0.2C8.2 1.3 6 4.8 5.3 6.8C4.7 8.7 4.6 10.1 5 11.8C5.4 13.5 7 15 7.9 16.8C8.7 18.6 9.8 20.9 10.4 22.5C10.9 24.1 11.5 25.4 11.3 26.3C11.1 27.1 9.7 26.9 9.1 27.5C8.5 28.1 7.9 28.9 7.9 30C7.8 31.2 9.1 33.4 8.8 34.4C8.5 35.5 7 36.2 6 36.3C5 36.4 3.7 35.8 2.8 35.1C1.9 34.3 1 32.4 0.6 31.9" stroke-width="2.8"/>
<path d="M11.3 26.3C12.1 26.6 14.5 27.2 16 28.1C17.5 29.1 19 31.3 20.4 31.9C21.9 32.5 23.4 32.4 24.8 31.9C26.3 31.4 27.8 29.4 29.2 28.8C30.7 28.1 32.1 27.9 33.6 28.1C35.2 28.4 37.1 29.1 38.7 30C40.2 31 42.2 32.5 43.1 33.8C43.9 35.1 44 36.5 43.7 37.6C43.4 38.6 42.5 39.6 41.2 40.1C39.8 40.6 37.1 40.3 35.5 40.7C33.9 41.1 32.7 41.7 31.7 42.6C30.8 43.5 30 44.9 29.9 46.4C29.8 47.8 30.3 50 31.1 51.4C32 52.8 33.6 54.3 34.9 54.5C36.1 54.7 37.5 53.3 38.7 52.7C39.8 52 40.5 51.3 41.8 50.8C43.1 50.2 45.3 49.1 46.2 49.5C47.1 49.9 47.1 51.9 47.5 53.3C47.8 54.6 47.6 56.5 48.1 57.7C48.6 58.8 49.2 59.7 50.6 60.2C52 60.7 54.4 60.8 56.3 60.8C58.1 60.8 60.4 59.9 61.9 60.2C63.4 60.5 64.4 61.5 65.1 62.7C65.7 64 65.8 66.3 65.7 67.7C65.6 69.2 64.8 70.2 64.4 71.5C64 72.8 63.4 74.9 63.2 75.6" stroke-width="2.8"/>
<path d="M9.1 6.8C10 7 12.6 7.9 14.1 8C15.7 8.1 17.1 8.1 18.5 7.4C20 6.7 21.5 4.5 22.9 3.6C24.4 2.8 25.7 2 27.3 2.4C29 2.8 31.6 4.5 33 6.1C34.4 7.8 35 10.6 35.5 12.4C36 14.2 35.5 15.8 36.1 16.8C36.8 17.9 37.7 18.7 39.3 18.7C40.9 18.7 43.7 17.4 45.6 16.8C47.5 16.3 49.8 16.5 50.6 15.6C51.4 14.6 50.7 12.4 50.6 11.2C50.5 9.9 49.3 8.9 50 8C50.6 7.2 52.9 6.8 54.4 6.1C55.8 5.5 57.9 5.3 58.8 4.3C59.7 3.3 59.6 0.9 59.7 0.2" stroke-width="2.8"/>
<path d="M0.3 50.8C1 50.5 3.2 49.2 4.7 48.9C6.2 48.6 7.6 48.4 9.1 48.9C10.6 49.4 12.4 50.8 13.5 52C14.7 53.3 15 55.3 16 56.4C17.1 57.6 19.5 57.5 19.8 58.9C20.1 60.4 19.1 63.8 17.9 65.2C16.8 66.7 14.7 67.3 12.9 67.7C11.1 68.2 8.9 67.9 7.2 67.7C5.6 67.5 4 66.8 2.8 66.5C1.7 66.2 0.7 66 0.3 65.9" stroke-width="2.8"/>
<path d="M28.6 75.6C28.8 74.6 29.1 71 29.9 69.6C30.6 68.2 31.8 67.6 33 67.1C34.2 66.6 35.3 66.3 36.8 66.5C38.2 66.7 40.3 67.6 41.8 68.4C43.3 69.1 44.3 70.1 45.6 70.9C46.8 71.6 48.2 72.6 49.3 72.8C50.5 73 51.1 72.5 52.5 72.1C53.8 71.8 56.7 71.1 57.5 70.9" stroke-width="2.8"/>
<path d="M46.2 49.5C47 49 49.7 47.3 51.2 46.4C52.8 45.4 54.8 45 55.6 43.9C56.5 42.7 56.4 41 56.3 39.5C56.1 37.9 54.8 36 55 34.4C55.2 32.9 56.3 31.1 57.5 30C58.8 29 61 28.2 62.5 28.1C64.1 28 65.8 28.5 66.9 29.4C68.1 30.3 69.2 32.2 69.5 33.8C69.7 35.4 68.6 37.2 68.2 38.8C67.8 40.5 66.9 42.3 66.9 43.9C66.9 45.4 67.6 47.3 68.2 48.3C68.8 49.2 69.9 49.8 70.7 49.5C71.5 49.2 72.7 47.7 73.2 46.4C73.7 45 73.4 42.8 73.9 41.3C74.3 39.9 75.5 38.2 75.8 37.6" stroke-width="2.8"/>
<path d="M74.8 37.6C75.7 37.5 79 36.6 80.5 37.3C81.9 37.9 83 39.6 83.6 41.3C84.2 43.1 84.3 45.6 84.2 47.6C84.1 49.6 83.2 51.6 83 53.3C82.8 55 83 56.9 83 57.7" stroke-width="2.8"/>
<path d="M84.2 57.1C84.8 56.5 86.6 55.3 87.4 53.9C88.1 52.5 87.8 50.2 88.6 48.9C89.5 47.5 91 46.2 92.4 45.7C93.8 45.3 95.5 45.5 96.8 46.4C98.1 47.2 99.4 49 99.9 50.8C100.5 52.5 100.3 55.2 99.9 57.1C99.6 58.9 98.3 60.5 98.1 62.1C97.8 63.7 99 65 98.7 66.5C98.4 67.9 97.4 69.9 96.2 70.9C94.9 71.8 92.5 71.4 91.1 72.1C89.8 72.9 88.5 75 88 75.6" stroke-width="2.8"/>
<path d="M107.5 59.6C107.3 58.6 107 56 106.2 53.9C105.5 51.8 104 49.3 103.1 47C102.1 44.7 100.9 42.1 100.6 40.1C100.3 38.1 100.5 36.1 101.2 35.1C101.9 34 103.4 33.8 105 33.8C106.5 33.8 108.8 34.2 110.6 35.1C112.4 35.9 114.3 37 115.7 38.8C117 40.6 118.2 43.2 118.8 45.7C119.4 48.3 119 51.5 119.4 53.9C119.8 56.3 120.5 58.8 121.3 60.2C122.1 61.6 123.3 62.2 124.5 62.1C125.6 62 127.2 60.9 128.2 59.6C129.3 58.2 130.5 55.9 130.7 53.9C130.9 51.9 130.1 49.3 129.5 47.6C128.9 45.9 127.1 45.2 127 43.9C126.9 42.5 127.8 40.3 128.9 39.5C129.9 38.6 131.8 38.7 133.3 38.8C134.7 38.9 136.1 39.2 137.7 40.1C139.2 40.9 141.1 43.1 142.7 43.9C144.3 44.6 145.7 44.5 147.1 44.5C148.5 44.5 150.5 44 151.2 43.9" stroke-width="2.8"/>
<path d="M151.2 53.9C150.6 54.1 148.4 54.3 147.7 55.2C147 56 146.7 57.8 147.1 58.9C147.5 60.1 149.7 61.6 150.2 62.1" stroke-width="2.8"/>
<path d="M133.3 75.6C133.6 75 134.1 72.9 135.1 72.1C136.2 71.4 138 70.8 139.5 70.9C141.1 71 143.3 72 144.6 72.8C145.8 73.6 146.7 75.1 147.1 75.6" stroke-width="2.8"/>
<path d="M0.3 80.3C0.9 81.2 2.8 84 4.1 85.9C5.3 87.8 6.8 89.9 7.9 91.6C9 93.2 10.2 94.3 10.7 96C11.2 97.6 10.9 100.7 11 101.6" stroke-width="2.8"/>
<path d="M10.7 96C11.6 95.3 14.3 93.5 16 92.2C17.8 90.9 19.4 89.6 21.1 88.4C22.7 87.3 24.4 86.2 26.1 85.3C27.8 84.3 29.6 82.8 31.1 82.8C32.6 82.8 34.3 83.9 34.9 85.3C35.5 86.6 34.6 89.2 34.9 90.9C35.2 92.7 35.8 94.8 36.8 96C37.7 97.1 39.3 98.3 40.5 97.9C41.8 97.4 43.4 95 44.3 93.5C45.3 91.9 45.1 89.7 46.2 88.4C47.2 87.2 49.1 85.9 50.6 85.9C52.1 85.9 54.1 87 55 88.4C55.9 89.9 56.6 92.6 56.3 94.7C55.9 96.8 54.2 99.1 53.1 101C52.1 102.9 50.2 104.6 50 106C49.8 107.5 50.5 108.9 51.9 109.8C53.2 110.7 56.7 110.7 58.1 111.7C59.6 112.6 60.4 114.1 60.7 115.5C60.9 116.8 60.4 118.7 59.4 119.9C58.3 121 56.3 122.1 54.4 122.4C52.5 122.7 50 122.1 48.1 121.7C46.2 121.4 43.6 119.7 43.1 120.5C42.5 121.2 44.1 124.3 44.9 126.1C45.8 128 46.7 130.4 48.1 131.8C49.4 133.2 51.2 133.6 53.1 134.3C55 135 57.9 135.1 59.4 136.2C60.9 137.2 61.6 139.1 61.9 140.6C62.2 142.1 61.6 143.2 61.3 145C61 146.8 60.2 150.5 60 151.6" stroke-width="2.8"/>
<path d="M28.6 74.6C28.8 75.4 29.4 78.3 29.9 79.6C30.3 81 30.9 82.2 31.1 82.8" stroke-width="2.8"/>
<path d="M0.3 102.3C0.9 103.1 2.8 105.4 4.1 107.3C5.3 109.2 6.9 111.7 7.9 113.6C8.8 115.5 9 117.1 9.7 118.6C10.5 120.1 11.8 121.7 12.3 122.4" stroke-width="2.8"/>
<path d="M10.4 103.5C11 103.5 12.7 103.1 14.1 103.5C15.6 103.9 17.9 104.9 19.2 106C20.4 107.2 21.4 108.8 21.7 110.4C22 112.1 21.8 114.5 21.1 116.1C20.3 117.7 18.8 119 17.3 119.9C15.8 120.7 13.1 120.9 12.3 121.1" stroke-width="2.8"/>
<path d="M0.3 128.7C0.8 129.3 2.9 131.2 3.5 132.4C4 133.7 4 135 3.5 136.2C2.9 137.3 0.8 138.8 0.3 139.3" stroke-width="2.8"/>
<path d="M13.5 151.6C13.5 150.3 13 145.8 13.5 143.7C14 141.7 15.1 140.5 16.7 139.3C18.2 138.2 21.1 137 22.9 136.8C24.8 136.6 26.5 137.1 28 138.1C29.4 139 31 140.9 31.7 142.5C32.5 144.1 32.6 146 32.4 147.5C32.2 149 30.8 150.9 30.5 151.6" stroke-width="2.8"/>
<path d="M75.8 127.4C75.4 126.5 73.9 124.3 73.2 121.7C72.6 119.2 72.7 115.4 72 112.3C71.2 109.3 68.9 105.6 68.8 103.5C68.7 101.4 70.2 100.2 71.3 99.7C72.5 99.3 75.1 100.8 75.8 101" stroke-width="2.8"/>
<path d="M87.4 74.6C87.2 75.6 86 79 86.1 80.9C86.2 82.8 86.7 84.8 88 85.9C89.3 87.1 91.9 87.7 93.7 87.8C95.4 87.9 97.2 87.6 98.7 86.5C100.2 85.5 101.2 82.8 102.5 81.5C103.7 80.3 104.9 79.1 106.2 79C107.6 78.9 109.6 79.5 110.6 80.9C111.7 82.2 111.9 85.1 112.5 87.2C113.1 89.3 114 91.4 114.4 93.5C114.8 95.6 115.2 98 115 99.7C114.8 101.5 114.2 102.9 113.1 104.1C112.1 105.4 110.1 107 108.7 107.3C107.4 107.6 106.2 107 105 106C103.7 105.1 102.5 102.9 101.2 101.6C99.9 100.4 98.9 99 97.4 98.5C96 98 93.8 97.8 92.4 98.5C91 99.2 89.8 101.2 89.3 102.9C88.7 104.6 88.8 106.8 89.3 108.5C89.7 110.3 91.4 111.7 91.8 113.6C92.2 115.5 92.3 118.2 91.8 119.9C91.2 121.5 89.9 122.4 88.6 123.6C87.4 124.9 85.6 126.3 84.2 127.4C82.9 128.4 81.7 129.7 80.5 129.9C79.2 130.1 77.6 129.2 76.7 128.7C75.7 128.1 75.1 127.1 74.8 126.8" stroke-width="2.8"/>
<path d="M91.8 120.5C92.6 120.8 95.5 121.3 96.8 122.4C98.1 123.4 99.3 125.3 99.3 126.8C99.3 128.2 97.7 129.7 96.8 131.2C95.9 132.6 94.1 134.1 93.7 135.6C93.2 137 93.4 138.8 94.3 140C95.1 141.1 97.1 142.6 98.7 142.5C100.3 142.4 102 140.6 103.7 139.3C105.4 138.1 107.1 136.2 108.7 134.9C110.4 133.7 112.1 132.5 113.8 131.8C115.4 131.1 117.5 130.5 118.8 130.5C120.1 130.5 120.9 131.6 121.3 131.8" stroke-width="2.8"/>
<path d="M113.8 151.6C113.9 150.5 113.6 146.5 114.4 145C115.2 143.5 117.1 143.1 118.8 142.5C120.5 141.9 122.9 141 124.5 141.2C126 141.4 126.9 142.8 128.2 143.7C129.6 144.7 131.2 146.6 132.6 146.9C134.1 147.2 135.6 146.6 137 145.6C138.5 144.7 140.7 142.8 141.4 141.2C142.2 139.7 142.2 137.6 141.4 136.2C140.7 134.8 138.7 134.1 137 133.1C135.3 132 132.4 131.1 131.4 129.9C130.3 128.8 130.1 127.1 130.7 126.1C131.4 125.2 133.4 124.7 135.1 124.3C136.9 123.8 138.8 123.5 141.4 123.6C144.1 123.7 149.5 124.7 151.2 124.9" stroke-width="2.8"/>
<circle cx="41.8" cy="1.1" r="2.6" fill="currentColor" stroke="none"/>
<circle cx="17.9" cy="58.9" r="3.5" fill="currentColor" stroke="none"/>
<circle cx="83" cy="57.7" r="4.1" fill="currentColor" stroke="none"/>
<circle cx="12.3" cy="122.4" r="3.5" fill="currentColor" stroke="none"/>
<circle cx="112.5" cy="50.8" r="3.8" fill="currentColor" fill-opacity="0.25" stroke="none"/>
<circle cx="140.2" cy="30.7" r="2.8" fill="currentColor" fill-opacity="0.25" stroke="none"/>
<circle cx="99.9" cy="8" r="7.5" fill="currentColor" fill-opacity="0.25" stroke="none"/>
<circle cx="93.7" cy="3.6" r="5.7" fill="currentColor" fill-opacity="0.25" stroke="none"/>
</g>
<g id="yt1" clip-path="url(#cl)" fill="none" stroke-linecap="round" stroke-linejoin="round">
<path d="M1.6 16.9C2.8 16.4 6.6 14.1 9.1 14.3C11.6 14.6 14 17.7 16.7 18.1C19.3 18.5 23.2 16.2 24.8 16.9C26.5 17.5 27 20.4 26.7 21.9C26.4 23.4 24.6 24.8 22.9 25.7C21.3 26.5 19.2 26.7 16.7 26.9C14.1 27.1 10.2 26.5 7.9 26.9C5.6 27.3 3.7 29 2.8 29.4" stroke-width="1.3" stroke-opacity="0.5"/>
<path d="M22.9 1.8C24 3 27.1 7.4 29.2 9.3C31.3 11.2 33.8 13.1 35.5 13.1C37.2 13.1 38.9 11.2 39.3 9.3C39.7 7.4 38.2 3 38 1.8" stroke-width="1.3" stroke-opacity="0.5"/>
<path d="M50.6 1.8C51 2.6 51.4 5.8 53.1 6.8C54.8 7.8 58.1 8.3 60.7 8.1C63.2 7.8 66.1 6.4 68.2 5.5C70.3 4.7 72.2 2.2 73.2 3C74.3 3.9 74.7 8.3 74.5 10.6C74.3 12.9 73.6 15.6 72 16.9C70.3 18.1 66.5 17.1 64.4 18.1C62.3 19.2 60 21.7 59.4 23.1C58.8 24.6 60.4 26.3 60.7 26.9" stroke-width="1.3" stroke-opacity="0.5"/>
<path d="M85.8 1.8C85.6 3.2 83.9 8.5 84.5 10.6C85.2 12.7 87.7 14.1 89.6 14.3C91.5 14.6 93.8 12.7 95.9 11.8C97.9 11 100.5 9.5 102.1 9.3C103.8 9.1 105.3 10.4 105.9 10.6" stroke-width="1.3" stroke-opacity="0.5"/>
<path d="M131 13.1C130.6 14.3 128.7 17.9 128.5 20.6C128.3 23.4 130.6 27.3 129.8 29.4C129 31.5 125.6 32.8 123.5 33.2C121.4 33.6 119.3 31.5 117.2 31.9C115.1 32.4 112.4 33.8 110.9 35.7C109.5 37.6 108.4 40.7 108.4 43.3C108.4 45.8 109.5 48.9 110.9 50.8C112.4 52.7 115.1 53.7 117.2 54.6C119.3 55.4 121.4 55.2 123.5 55.8C125.6 56.5 129 57.3 129.8 58.3C130.6 59.4 128.7 61.5 128.5 62.1" stroke-width="1.3" stroke-opacity="0.5"/>
<path d="M98.4 21.9C97.9 23.1 95.6 27.1 95.9 29.4C96.1 31.7 97.7 34.2 99.6 35.7C101.5 37.2 105.3 38.4 107.2 38.2C109.1 38 110.3 35.1 110.9 34.5" stroke-width="1.3" stroke-opacity="0.5"/>
<path d="M133.6 37C134.6 36.8 137.8 35.3 139.8 35.7C141.9 36.1 144.9 37.4 146.1 39.5C147.4 41.6 147.8 46 147.4 48.3C147 50.6 144.2 52.5 143.6 53.3" stroke-width="1.3" stroke-opacity="0.5"/>
<path d="M5.3 60.9C6.6 62.1 10.4 66.7 12.9 68.4C15.4 70.1 19 69.7 20.4 70.9C21.9 72.2 22.3 74.7 21.7 75.9C21.1 77.2 19 77.6 16.7 78.5C14.4 79.3 10.2 79.7 7.9 81C5.6 82.2 3.2 83.9 2.8 86C2.4 88.1 3.9 91.9 5.3 93.5C6.8 95.2 9.3 96.3 11.6 96.1C13.9 95.8 16.9 93.1 19.2 92.3C21.5 91.4 24.2 90 25.5 91C26.7 92.1 27.1 96.3 26.7 98.6C26.3 100.9 22.9 102.8 22.9 104.9C22.9 106.9 25 110.5 26.7 111.1C28.4 111.8 31.7 109.9 33 108.6C34.3 107.4 33.8 105.3 34.3 103.6C34.7 101.9 34.5 100.2 35.5 98.6C36.6 96.9 39.3 95.6 40.5 93.5C41.8 91.4 43.3 87.5 43.1 86C42.8 84.5 39.9 84.9 39.3 84.7" stroke-width="1.3" stroke-opacity="0.5"/>
<path d="M1.6 108.6C2.2 108.6 3.9 108 5.3 108.6C6.8 109.3 8.9 110.9 10.4 112.4C11.8 113.9 12.9 116.8 14.1 117.4C15.4 118.1 16.7 117.2 17.9 116.2C19.2 115.1 20.4 112.6 21.7 111.1C22.9 109.7 24.8 108 25.5 107.4" stroke-width="1.3" stroke-opacity="0.5"/>
<path d="M2.8 127.5C2.6 128.5 1.6 131.2 1.6 133.8C1.6 136.3 2.8 139.8 2.8 142.6C2.8 145.3 1.8 148.8 1.6 150.1" stroke-width="1.3" stroke-opacity="0.5"/>
<path d="M39.3 133.8C40.7 133.3 45.8 130.4 48.1 131.2C50.4 132.1 51.4 136.3 53.1 138.8C54.8 141.3 56.7 144.4 58.1 146.3C59.6 148.2 61.3 149.5 61.9 150.1" stroke-width="1.3" stroke-opacity="0.5"/>
<path d="M60.7 125C61.5 125.8 63.6 130.2 65.7 130C67.8 129.8 70.7 125 73.2 123.7C75.7 122.5 79.1 121.6 80.8 122.5C82.4 123.3 83.5 126.4 83.3 128.7C83.1 131 80.1 135 79.5 136.3" stroke-width="1.3" stroke-opacity="0.5"/>
<path d="M122.3 63.4C122.9 64.2 125.2 66.7 126 68.4C126.9 70.1 127.7 72.2 127.3 73.4C126.9 74.7 125.8 75.1 123.5 75.9C121.2 76.8 115.1 78 113.5 78.5" stroke-width="1.3" stroke-opacity="0.5"/>
<path d="M31.7 26.9C32.6 27.1 35.5 26.7 36.8 28.2C38 29.6 38.7 33.2 39.3 35.7C39.9 38.2 39.5 43.3 40.5 43.3C41.6 43.3 44.1 37.2 45.6 35.7C47 34.2 48.7 34.7 49.3 34.5" stroke-width="1.3" stroke-opacity="0.5"/>
<path d="M136.1 104.9C137.3 104.9 141.5 104.2 143.6 104.9C145.7 105.5 148.2 107.2 148.6 108.6C149.1 110.1 147.2 112.8 146.1 113.7C145.1 114.5 143 113.7 142.4 113.7" stroke-width="1.3" stroke-opacity="0.5"/>
<path d="M53.1 40.7C54.2 40.1 57.3 37.4 59.4 37C61.5 36.6 64.2 39.1 65.7 38.2C67.1 37.4 66.9 33.2 68.2 31.9C69.5 30.7 71.8 30.3 73.2 30.7C74.7 31.1 75.9 34.5 77 34.5C78 34.5 78.5 31.1 79.5 30.7C80.6 30.3 82.4 30.5 83.3 31.9C84.1 33.4 83.7 37.8 84.5 39.5C85.4 41.2 86.8 41.4 88.3 42C89.8 42.6 92.5 43 93.3 43.3" stroke-width="2.0"/>
<path d="M93.3 44.5C92.7 45.6 91 50.4 89.6 50.8C88.1 51.2 86.4 47.9 84.5 47C82.7 46.2 80.1 45.3 78.3 45.8C76.4 46.2 74.7 47.9 73.2 49.5C71.8 51.2 69.9 53.5 69.5 55.8C69 58.1 69.7 61.1 70.7 63.4C71.8 65.7 73.9 68.8 75.7 69.7C77.6 70.5 80.6 69.4 82 68.4C83.5 67.3 83.5 63.8 84.5 63.4C85.6 62.9 87.5 64.2 88.3 65.9C89.1 67.6 89.3 70.7 89.6 73.4C89.9 76.1 90.1 80.8 90.2 82.2" stroke-width="2.0"/>
<path d="M90.2 82.2C90.9 81.6 93.4 80.3 94.6 78.5C95.7 76.6 96.3 73.4 97.1 70.9C97.9 68.4 98.4 64.6 99.6 63.4C100.9 62.1 103.4 62.1 104.7 63.4C105.9 64.6 107 68.4 107.2 70.9C107.4 73.4 105.9 75.9 105.9 78.5C105.9 81 105.9 84.1 107.2 86C108.4 87.9 111.1 88.7 113.5 89.8C115.8 90.8 119.3 90.8 121 92.3C122.7 93.7 123.7 97.1 123.5 98.6C123.3 100 120.4 100.7 119.7 101.1" stroke-width="2.0"/>
<path d="M53.1 40.7C53.5 41.8 56 45.1 55.6 47C55.2 48.9 52.7 51 50.6 52.1C48.5 53.1 45.4 52.5 43.1 53.3C40.7 54.1 37.6 55.4 36.8 57.1C35.9 58.8 36.8 62.5 38 63.4C39.3 64.2 42 62.5 44.3 62.1C46.6 61.7 49.8 60.6 51.9 60.9C53.9 61.1 55.8 61.7 56.9 63.4C57.9 65 59 69.2 58.1 70.9C57.3 72.6 53.7 72.6 51.9 73.4C50 74.3 47.2 74.7 46.8 75.9C46.4 77.2 47.9 79.3 49.3 81C50.8 82.6 54.2 84.3 55.6 86C57.1 87.7 56.9 91 58.1 91C59.4 91 61.5 87.7 63.2 86C64.8 84.3 66.5 81.8 68.2 81C69.9 80.1 71.8 79.9 73.2 81C74.7 82 76.8 85.2 77 87.3C77.2 89.3 75.7 91.7 74.5 93.5C73.2 95.4 70.9 97.3 69.5 98.6C68 99.8 66.1 99.6 65.7 101.1C65.3 102.5 65.9 106.1 66.9 107.4C68 108.6 70.5 109.5 72 108.6C73.4 107.8 74.3 104.4 75.7 102.3C77.2 100.2 79.1 97.3 80.8 96.1C82.4 94.8 84.1 94.4 85.8 94.8C87.5 95.2 90.2 96.9 90.8 98.6C91.5 100.2 88.7 103.4 89.6 104.9C90.4 106.3 94 106.3 95.9 107.4C97.7 108.4 99.8 109.7 100.9 111.1C101.9 112.6 101.3 114.9 102.1 116.2C103 117.4 104.4 118.5 105.9 118.7C107.4 118.9 109.9 119.1 110.9 117.4C112 115.7 112.8 111.1 112.2 108.6C111.6 106.1 108.8 104 107.2 102.3C105.5 100.7 102.3 100 102.1 98.6C101.9 97.1 104 94.4 105.9 93.5C107.8 92.7 111.1 93.1 113.5 93.5C115.8 94 118.7 95.6 119.7 96.1" stroke-width="2.0"/>
<path d="M116 146.3C116.4 145.3 116.8 141.7 118.5 140C120.2 138.4 123.1 137.3 126 136.3C129 135.2 133.4 134.6 136.1 133.8C138.8 132.9 140.9 132.5 142.4 131.2C143.8 130 145.5 127.9 144.9 126.2C144.2 124.5 140.9 122.5 138.6 121.2C136.3 119.9 133.4 118.9 131 118.7C128.7 118.5 126.4 118.5 124.8 119.9C123.1 121.4 122.5 125.8 121 127.5C119.5 129.2 116.8 129.6 116 130" stroke-width="2.0"/>
<path d="M90.8 113.7C91.9 113 95.2 110.3 97.1 109.9C99 109.5 101.3 110.9 102.1 111.1" stroke-width="2.0"/>
<path d="M93.3 118.7C94.2 119.5 96.5 121.8 98.4 123.7C100.3 125.6 103.4 128.1 104.7 130C105.9 131.9 106.5 134 105.9 135C105.3 136.1 102.8 136.5 100.9 136.3C99 136.1 95.4 132.9 94.6 133.8C93.8 134.6 96.5 138.8 95.9 141.3C95.2 143.8 91.7 147.6 90.8 148.8" stroke-width="2.0"/>
<circle cx="93.3" cy="43.3" r="3.8" fill="currentColor" stroke="none"/>
<circle cx="90.2" cy="82.2" r="4.1" fill="currentColor" stroke="none"/>
<circle cx="118.5" cy="131.2" r="3.8" fill="currentColor" stroke="none"/>
<circle cx="24.8" cy="16.9" r="3.8" fill="currentColor" fill-opacity="0.25" stroke="none"/>
<circle cx="124.8" cy="3" r="3.8" fill="currentColor" fill-opacity="0.25" stroke="none"/>
<circle cx="129.8" cy="29.4" r="4" fill="currentColor" fill-opacity="0.25" stroke="none"/>
</g>
<path id="rfp1" d="M55.8 35.1C56.8 32.8 60.1 29.5 62.1 28.8C64 28 66.6 29 67.7 30.7C68.9 32.3 68.8 36 69 38.8C69.2 41.7 68.5 45.9 69 47.6C69.4 49.3 70.7 50.1 71.5 48.9C72.2 47.6 72.4 42.2 73.4 40.1C74.3 38 75.7 36.5 77.1 36.3C78.6 36.1 80.9 36.7 82.2 38.8C83.4 40.9 84.1 45.9 84.7 48.9C85.3 51.8 85.3 56.4 85.9 56.4C86.6 56.4 87.2 50.7 88.5 48.9C89.7 47.1 91.6 45.7 93.5 45.7C95.4 45.7 98.4 47.1 99.8 48.9C101.1 50.7 101.7 53.7 101.7 56.4C101.7 59.1 100.7 62.7 99.8 65.2C98.8 67.7 97.9 70 96 71.5C94.1 73 89.9 72.3 88.5 74C87 75.7 86.6 79.5 87.2 81.6C87.8 83.7 90.1 86.2 92.2 86.6C94.3 87 97.5 85.3 99.8 84.1C102.1 82.8 104.2 79.5 106.1 79.1C107.9 78.6 109.6 79.1 111.1 81.6C112.5 84.1 114.4 90.4 114.9 94.1C115.3 97.9 114.6 102.1 113.6 104.2C112.5 106.3 110.9 107.3 108.6 106.7C106.3 106.1 102.1 101.7 99.8 100.4C97.5 99.2 96.2 98.7 94.7 99.2C93.3 99.6 91.4 100.8 91 102.9C90.5 105 92.2 108.6 92.2 111.7C92.2 114.9 92.2 118.9 91 121.8C89.7 124.7 86.8 128.1 84.7 129.3C82.6 130.6 80.1 130.6 78.4 129.3C76.7 128.1 75.5 125.4 74.6 121.8C73.8 118.2 74 111.5 73.4 108C72.7 104.4 71.9 101.7 70.9 100.4C69.8 99.2 68.5 99 67.1 100.4C65.6 101.9 63.5 107.3 62.1 109.2C60.6 111.1 60 111.9 58.3 111.7C56.6 111.5 53 110.1 52 108C50.9 105.9 51.8 102.3 52 99.2C52.2 96 53.9 91.2 53.3 89.1C52.6 87 50.1 86.2 48.2 86.6C46.3 87 43.4 89.7 41.9 91.6C40.5 93.5 40.5 97.5 39.4 97.9C38.4 98.3 36.5 96.4 35.7 94.1C34.8 91.8 35.4 87.2 34.4 84.1C33.4 80.9 29.8 77.8 29.4 75.3C29 72.8 30.2 70.3 31.9 69C33.6 67.7 36.7 66.7 39.4 67.7C42.1 68.8 45.3 74.2 48.2 75.3C51.2 76.3 54.3 74.9 57 74C59.7 73.2 63.5 72.3 64.6 70.3C65.6 68.2 65 63.1 63.3 61.5C61.6 59.8 56.8 60.8 54.5 60.2C52.2 59.6 50.6 59.6 49.5 57.7C48.3 55.8 47.2 51.2 47.6 48.9C48 46.6 50.6 44.9 52 43.9C53.4 42.8 55.1 44.1 55.8 42.6C56.4 41.1 54.7 37.4 55.8 35.1Z"/>
<path id="rfp2" d="M52 44.9C52.6 43.3 55.6 41.8 57 41.8C58.5 41.8 59.5 43.3 60.8 44.9C62.1 46.5 63.1 49.7 64.6 51.2C66 52.7 68.1 54.1 69.6 53.7C71.1 53.3 72.3 49.7 73.4 48.7C74.4 47.6 74.8 46.8 75.9 47.4C76.9 48.1 78.4 50.8 79.7 52.5C80.9 54.1 82.2 56.9 83.4 57.5C84.7 58.1 85.9 57.3 87.2 56.2C88.5 55.2 89.5 51.6 91 51.2C92.4 50.8 94.7 52 96 53.7C97.3 55.4 97 60.4 98.5 61.3C100 62.1 102.5 59.8 104.8 58.7C107.1 57.7 110.2 55 112.3 55C114.4 55 116.9 56.4 117.4 58.7C117.8 61 116.3 66.1 114.9 68.8C113.4 71.5 110.7 74.2 108.6 75.1C106.5 75.9 104 74.5 102.3 73.8C100.6 73.2 99.8 70.7 98.5 71.3C97.3 71.9 96.2 76.8 94.7 77.6C93.3 78.4 91 77.6 89.7 76.3C88.5 75.1 88.7 71.5 87.2 70.1C85.7 68.6 83 67.5 80.9 67.5C78.8 67.5 76.5 69.8 74.6 70.1C72.7 70.3 70.6 67.7 69.6 68.8C68.5 69.8 68.1 73.8 68.3 76.3C68.5 78.9 69.4 82.6 70.9 83.9C72.3 85.1 75.3 83 77.1 83.9C79 84.7 80.9 87.2 82.2 88.9C83.4 90.6 85.1 92.3 84.7 93.9C84.3 95.6 81.1 96.9 79.7 99C78.2 101.1 77.1 105.3 75.9 106.5C74.6 107.8 73.6 107.3 72.1 106.5C70.6 105.7 68.5 102.3 67.1 101.5C65.6 100.6 64.4 100.9 63.3 101.5C62.3 102.1 60.8 103.6 60.8 105.3C60.8 106.9 62.7 109.7 63.3 111.5C63.9 113.4 65.4 114.5 64.6 116.6C63.7 118.7 60.2 122.2 58.3 124.1C56.4 126 55.6 127.9 53.3 127.9C50.9 127.9 46.3 125.6 44.5 124.1C42.6 122.6 41.3 120.8 41.9 119.1C42.6 117.4 46.8 115.7 48.2 114.1C49.7 112.4 51.6 109.9 50.7 109C49.9 108.2 45.3 109.7 43.2 109C41.1 108.4 38.6 106.7 38.2 105.3C37.8 103.8 39 101.5 40.7 100.2C42.4 99 46.3 98.8 48.2 97.7C50.1 96.7 52.4 94.6 52 93.9C51.6 93.3 47.4 94.6 45.7 93.9C44 93.3 41.9 91.4 41.9 90.2C41.9 88.9 43.8 87.2 45.7 86.4C47.6 85.6 51.8 86.2 53.3 85.1C54.7 84.1 55.1 81.6 54.5 80.1C53.9 78.6 51.4 78.2 49.5 76.3C47.6 74.5 44.2 71.3 43.2 68.8C42.1 66.3 42.4 62.7 43.2 61.3C44 59.8 46.3 59.6 48.2 60C50.1 60.4 52.8 63.6 54.5 63.8C56.2 64 57.9 62.7 58.3 61.3C58.7 59.8 57.9 56.6 57 55C56.2 53.3 54.1 52.9 53.3 51.2C52.4 49.5 51.4 46.5 52 44.9Z"/>
<path id="rfp3" d="M60.8 39C61.8 37.9 64.6 37.2 67.1 36.5C69.6 35.7 73.6 33.5 75.9 34.6C78.2 35.6 79.2 42.9 80.9 42.8C82.6 42.6 83.4 35.6 85.9 34C88.5 32.3 93.7 31.9 96 32.7C98.3 33.5 98.3 37.3 99.8 39C101.2 40.7 103.1 43.3 104.8 42.8C106.5 42.2 107.7 36.7 109.8 35.8C111.9 35 116.5 35.5 117.4 37.7C118.2 39.9 116.1 46.3 114.9 49C113.6 51.8 112.5 53 109.8 54.1C107.1 55.1 101.2 54.3 98.5 55.3C95.8 56.4 93.9 58.7 93.5 60.4C93.1 62 93.9 65 96 65.4C98.1 65.8 103.5 62.7 106.1 62.9C108.6 63.1 110.7 64.8 111.1 66.6C111.5 68.5 109.8 72.3 108.6 74.2C107.3 76.1 103.5 76.3 103.5 78C103.5 79.6 108.4 81.7 108.6 84.2C108.8 86.8 106.5 90.9 104.8 93C103.1 95.1 100.4 97.6 98.5 96.8C96.6 96 95.4 90.1 93.5 88C91.6 85.9 89.3 84.7 87.2 84.2C85.1 83.8 83 85.3 80.9 85.5C78.8 85.7 75.3 84.2 74.6 85.5C74 86.8 75.5 92.2 77.1 93C78.8 93.9 83.6 89.9 84.7 90.5C85.7 91.2 84.7 94.3 83.4 96.8C82.2 99.3 78.8 104.8 77.1 105.6C75.5 106.4 74.4 103.3 73.4 101.8C72.3 100.4 72.3 97.9 70.9 96.8C69.4 95.8 65.2 94.5 64.6 95.6C63.9 96.6 66.2 100.6 67.1 103.1C67.9 105.6 70 108.3 69.6 110.6C69.2 112.9 66.7 116.5 64.6 116.9C62.5 117.3 58.9 114.6 57 113.2C55.1 111.7 54.9 109.2 53.3 108.1C51.6 107.1 49.3 107.9 47 106.9C44.7 105.8 41.5 103.7 39.4 101.8C37.3 100 35 97.4 34.4 95.6C33.8 93.7 34 91.2 35.7 90.5C37.3 89.9 42.4 92.6 44.5 91.8C46.5 90.9 48.6 87 48.2 85.5C47.8 84 43.6 84.2 41.9 83C40.3 81.7 38.6 80.3 38.2 78C37.8 75.6 38 70.8 39.4 69.2C40.9 67.5 44.7 66.6 47 67.9C49.3 69.2 50.9 74.8 53.3 76.7C55.6 78.6 59.1 79.6 60.8 79.2C62.5 78.8 63.5 76.1 63.3 74.2C63.1 72.3 61 70 59.5 67.9C58.1 65.8 55.6 63.5 54.5 61.6C53.5 59.7 52.4 57.6 53.3 56.6C54.1 55.5 57.2 54.7 59.5 55.3C61.8 56 65 58.3 67.1 60.4C69.2 62.4 70.4 67.3 72.1 67.9C73.8 68.5 76.1 66 77.1 64.1C78.2 62.2 79.2 58.9 78.4 56.6C77.6 54.3 74.6 51.8 72.1 50.3C69.6 48.8 65.2 49 63.3 47.8C61.4 46.5 61.2 44.2 60.8 42.8C60.4 41.3 59.7 40 60.8 39Z"/>
<filter id="tubeNoise" x="0" y="0" width="100%" height="100%"><feTurbulence type="fractalNoise" baseFrequency="0.25" numOctaves="2" seed="5"/><feColorMatrix type="matrix" values="0 0 0 0 1  0 0 0 0 1  0 0 0 0 1  3 0 0 0 -1.2"/><feComposite in2="SourceGraphic" operator="in"/></filter>
</defs>
<!-- ============ PANEL A ============ -->
<g id="panelA">
<text transform="translate(18,38) scale(1,1.07)" font-size="40.5">A</text>
<text transform="translate(88,373.5) rotate(-90)" font-size="27.5">Relative value of LUC/REN</text>
<g font-size="28" text-anchor="end">
<text transform="translate(162,32) scale(1,1.07)">1.5</text>
<text transform="translate(162,142.5) scale(1,1.07)">1.0</text>
<text transform="translate(162,252.5) scale(1,1.07)">0.5</text>
<text transform="translate(162,362.5) scale(1,1.07)">0.0</text>
</g>
<g stroke="#000" stroke-width="3.4" fill="none">
<path d="M164.5 21.5H178.9V353.5M164.5 132H178.9M164.5 242H178.9M164.5 352H555"/>
<path d="M236 352V366M322.8 352V366M409 352V366M496 352V366"/>
</g>
<rect x="208" y="132" width="57.3" height="220" fill="#000"/>
<rect x="294.5" y="254.3" width="57.5" height="97.7" fill="#bf5700"/>
<rect x="380.5" y="251.7" width="57.8" height="100.3" fill="#fcd5a0"/>
<rect x="467" y="299" width="58" height="53" fill="#ff4545"/>
<g stroke="#000" stroke-width="3.4" fill="none">
<path d="M222 115.9H250.5M236 115.9V132"/>
<path d="M308.5 244.6H337M322.8 244.6V254.3"/>
<path d="M395 244H423.7M409 244V251.7"/>
<path d="M481 297.5H510"/>
</g>
<g font-size="27.5" text-anchor="middle">
<text transform="translate(236.5,106) scale(1,1.07)">a</text>
<text transform="translate(324.5,238.5) scale(1,1.07)">b</text>
<text transform="translate(409.5,238.5) scale(1,1.07)">b</text>
<text transform="translate(495.5,291) scale(1,1.07)">c</text>
</g>
<text transform="translate(225,45) scale(1,1.07)" font-size="27.5">+<tspan font-style="italic">MdABA4-2</tspan> Promoter</text>
<g font-size="28" font-style="italic" text-anchor="end">
<text transform="translate(246.5,388.5) rotate(-45) scale(1,1.07)">SK</text>
<text transform="translate(332.5,388.5) rotate(-45) scale(1,1.07)">SK+MdERF2</text>
<text transform="translate(418.5,388.5) rotate(-45) scale(1,1.07)">SK+MdSCR11</text>
<text transform="translate(505.5,388.5) rotate(-45) scale(1,1.07)">MdERF2+MdSCR11</text>
</g>
</g>
<!-- ============ PANEL B ============ -->
<g id="panelB">
<text transform="translate(19.5,594.6) scale(1,1.07)" font-size="40.5">B</text>
<text transform="translate(91.6,965.5) rotate(-90)" font-size="29">Relative GUS activity (fold)</text>
<g font-size="29" text-anchor="end">
<text transform="translate(150,619.5) scale(1,1.07)">2.5</text>
<text transform="translate(150,689) scale(1,1.07)">2.0</text>
<text transform="translate(150,758) scale(1,1.07)">1.5</text>
<text transform="translate(150,828.5) scale(1,1.07)">1.0</text>
<text transform="translate(150,898) scale(1,1.07)">0.5</text>
<text transform="translate(150,967.5) scale(1,1.07)">0.0</text>
</g>
<g stroke="#000" stroke-width="3.4" fill="none">
<path d="M153.5 608.4H167.6V959M153.5 679H167.6M153.5 748H167.6M153.5 818.5H167.6M153.5 888H167.6M153.5 957.5H560"/>
<path d="M227.5 957.5V972M317.3 957.5V972M407.4 957.5V972M497.5 957.5V972"/>
</g>
<rect x="197.6" y="818.9" width="60.2" height="138.6" fill="#5f5f5f"/>
<rect x="287.7" y="880" width="59.5" height="77.5" fill="#98e898"/>
<rect x="377.5" y="892.7" width="59.8" height="64.8" fill="#00c800"/>
<rect x="467.6" y="911" width="60.2" height="46.5" fill="#00a000"/>
<g stroke="#555" stroke-width="3.4" fill="none">
<path d="M213.2 807.2H241.5M227.5 807.2V818.9"/>
<path d="M303.3 874.2H331.6M317.3 874.2V880"/>
<path d="M392.8 889.5H422M407.4 889.5V892.7"/>
<path d="M483 907.4H512.5M497.5 907.4V911"/>
</g>
<g font-size="28.5" text-anchor="middle">
<text transform="translate(226.7,800.7) scale(1,1.07)">a</text>
<text transform="translate(317.7,868) scale(1,1.07)">b</text>
<text transform="translate(406.7,884.3) scale(1,1.07)">b</text>
<text transform="translate(496.2,903) scale(1,1.07)">c</text>
</g>
<text transform="translate(216.5,619.5) scale(1,1.07)" font-size="29"><tspan font-style="italic">ProMdABA4-2</tspan> :: GUS</text>
<g font-size="29.4" font-style="italic" text-anchor="end">
<text transform="translate(237.3,996.3) rotate(-45) scale(1,1.07)">pRI101</text>
<text transform="translate(327.3,996.3) rotate(-45) scale(1,1.07)">pRI101+MdERF2</text>
<text transform="translate(417.3,996.3) rotate(-45) scale(1,1.07)">pRI101+MdSCR11</text>
<text transform="translate(507.3,996.3) rotate(-45) scale(1,1.07)">MdMdERF2+MdSCR11</text>
</g>
<g id="tubes"><g>
<rect x="195.3" y="650.5" width="69.4" height="121" fill="#222221"/>
<path d="M207.4 650.5H249.8V688L242.5 747.5A10.3 10.3 0 0 1 221.9 747.5L207.4 688Z" fill="#b7bec1"/>
<path d="M207.4 650.5H249.8V688L242.5 747.5A10.3 10.3 0 0 1 221.9 747.5L207.4 688Z" fill="#fff" filter="url(#tubeNoise)" opacity=".28"/>
<rect x="211.4" y="650.5" width="9" height="37.5" fill="#8f969a" opacity="0.45"/>
<path d="M208.4 664H232.4" stroke="#eef0f0" stroke-width="1.8" opacity=".85"/>
<text x="209.4" y="678.5" font-size="11.5" style="font-weight:normal;fill:#f2f4f4">1.0</text>
<path d="M221.7 745.5V747.5A10.5 10.5 0 0 0 242.7 747.5V745.5Z" fill="#e6e0c4"/>
<path d="M207.7 688H249.5L241.9 744A9.700000000000001 9.700000000000001 0 0 1 222.5 744Z" fill="#1c64bc"/>
<path d="M207.7 688H249.5L248.6 696H208.9Z" fill="#2f7ccc"/>
</g>
<g>
<rect x="281.3" y="650.5" width="69.4" height="121" fill="#222221"/>
<path d="M292.8 650.5H333.1V684.7L324.1 747.5A10.3 10.3 0 0 1 303.5 747.5L292.8 684.7Z" fill="#b7bec1"/>
<path d="M292.8 650.5H333.1V684.7L324.1 747.5A10.3 10.3 0 0 1 303.5 747.5L292.8 684.7Z" fill="#fff" filter="url(#tubeNoise)" opacity=".28"/>
<rect x="296.8" y="650.5" width="9" height="34.2" fill="#8f969a" opacity="0.45"/>
<path d="M293.8 664H317.8" stroke="#eef0f0" stroke-width="1.8" opacity=".85"/>
<text x="294.8" y="678.5" font-size="11.5" style="font-weight:normal;fill:#f2f4f4">1.0</text>
<path d="M303.3 745.5V747.5A10.5 10.5 0 0 0 324.3 747.5V745.5Z" fill="#e6e0c4"/>
<path d="M293.1 684.7H332.8L323.5 744A9.700000000000001 9.700000000000001 0 0 1 304.1 744Z" fill="#28aab4"/>
<path d="M293.1 684.7H332.8L331.9 692.7H294.3Z" fill="#52c2ca"/>
</g>
<g>
<rect x="371" y="650.5" width="69.4" height="121" fill="#222221"/>
<path d="M386 650.5H425.7V682.3L415 747.5A10.3 10.3 0 0 1 394.4 747.5L386 682.3Z" fill="#b2bec2"/>
<path d="M386 650.5H425.7V682.3L415 747.5A10.3 10.3 0 0 1 394.4 747.5L386 682.3Z" fill="#fff" filter="url(#tubeNoise)" opacity=".28"/>
<rect x="390" y="650.5" width="9" height="31.8" fill="#8f969a" opacity="0.45"/>
<path d="M387 664H411" stroke="#eef0f0" stroke-width="1.8" opacity=".85"/>
<text x="388" y="678.5" font-size="11.5" style="font-weight:normal;fill:#f2f4f4">1.0</text>
<path d="M394.2 745.5V747.5A10.5 10.5 0 0 0 415.2 747.5V745.5Z" fill="#e6e0c4"/>
<path d="M386.3 682.3H425.4L414.4 744A9.700000000000001 9.700000000000001 0 0 1 395 744Z" fill="#20a8b2"/>
<path d="M386.3 682.3H425.4L424.5 690.3H387.5Z" fill="#4cbec6"/>
</g>
<g>
<rect x="462.1" y="650.5" width="69.4" height="121" fill="#222221"/>
<path d="M478 650.5H518.3V680.5L508.1 747.5A10.3 10.3 0 0 1 487.5 747.5L478 680.5Z" fill="#c0c4c4"/>
<path d="M478 650.5H518.3V680.5L508.1 747.5A10.3 10.3 0 0 1 487.5 747.5L478 680.5Z" fill="#fff" filter="url(#tubeNoise)" opacity=".28"/>
<rect x="482" y="650.5" width="9" height="30" fill="#8f969a" opacity="0.45"/>
<path d="M479 664H503" stroke="#eef0f0" stroke-width="1.8" opacity=".85"/>
<text x="480" y="678.5" font-size="11.5" style="font-weight:normal;fill:#f2f4f4">1.0</text>
<path d="M487.3 745.5V747.5A10.5 10.5 0 0 0 508.3 747.5V745.5Z" fill="#e6e0c4"/>
<path d="M478.3 680.5H518L507.5 744A9.700000000000001 9.700000000000001 0 0 1 488.1 744Z" fill="#8fcfbc"/>
<path d="M478.3 680.5H518L517.1 688.5H479.5Z" fill="#a2d8c8"/>
</g></g>
</g>
<!-- ============ PANEL C ============ -->
<g id="panelC">
<text transform="translate(712,39.2) scale(1,1.07)" font-size="39.5">C</text>
<g font-size="27" text-anchor="middle">
<text transform="translate(870,31) scale(1,1.07)">Merge</text>
<text transform="translate(1011,32.3) scale(1,1.07)">YFP</text>
<text transform="translate(1175,31.5) scale(1,1.07)">NLS-mCherry</text>
<text transform="translate(1326.8,30.6) scale(1,1.07)">Bright</text>
<text transform="translate(862.5,539) scale(1,1.07)">Merge</text>
<text transform="translate(1011.5,539) scale(1,1.07)">YFP</text>
<text transform="translate(1173.3,539) scale(1,1.07)">CBL1n:RFP</text>
<text transform="translate(1331.3,539) scale(1,1.07)">Bright</text>
</g>
<g font-size="27.4" text-anchor="end">
<text transform="translate(772,109) scale(1,1.07)"><tspan font-style="italic">MdSCR11</tspan>-YN</text>
<text transform="translate(770,142) scale(1,1.07)">+<tspan font-style="italic">MdERF</tspan>2-YC</text>
<text transform="translate(775,266) scale(1,1.07)">YN</text>
<text transform="translate(772,298) scale(1,1.07)">+<tspan font-style="italic">MdERF</tspan>2-YC</text>
<text transform="translate(772,420) scale(1,1.07)">YC</text>
<text transform="translate(772,453) scale(1,1.07)">+<tspan font-style="italic">MdSCR11</tspan>-YN</text>
<text transform="translate(771,623) scale(1,1.07)"><tspan font-style="italic">MdSCR11</tspan>-YN</text>
<text transform="translate(770,656) scale(1,1.07)">+<tspan font-style="italic">MdERF</tspan>2-YC</text>
<text transform="translate(772.5,779) scale(1,1.07)">YN</text>
<text transform="translate(769,812) scale(1,1.07)">+<tspan font-style="italic">MdERF</tspan>2-YC</text>
<text transform="translate(771,927) scale(1,1.07)">YC</text>
<text transform="translate(771,959.5) scale(1,1.07)">+<tspan font-style="italic">MdSCR11</tspan>-YN</text>
</g>

<g id="tiles">
<svg x="788" y="40" width="151.2" height="150.4"><use href="#text1" x="0" y="0" /></svg>
<svg x="1252" y="40" width="151" height="150.4"><use href="#text1" x="0" y="0" /></svg>
<rect x="942.2" y="40" width="151.4" height="150.4" fill="#000"/>
<rect x="1095.8" y="40" width="151.2" height="150.4" fill="#000"/>
<svg x="788" y="195.4" width="151.2" height="151"><use href="#text2" x="0" y="0" /></svg>
<svg x="1252" y="195.4" width="151" height="151"><use href="#text2" x="0" y="0" /></svg>
<rect x="942.2" y="195.4" width="151.4" height="151" fill="#000"/>
<rect x="1095.8" y="195.4" width="151.2" height="151" fill="#000"/>
<svg x="788" y="351" width="151.2" height="151.2"><use href="#text3" x="0" y="0" /></svg>
<svg x="1252" y="351" width="151" height="151.2"><use href="#text3" x="0" y="0" /></svg>
<rect x="942.2" y="351" width="151.4" height="151.2" fill="#000"/>
<rect x="1095.8" y="351" width="151.2" height="151.2" fill="#000"/>
<svg x="788" y="550.4" width="151.2" height="150.8"><use href="#texb1" x="0" y="0" /></svg>
<svg x="1252" y="550.4" width="151" height="150.8"><use href="#texb1" x="0" y="0" /></svg>
<rect x="942.2" y="550.4" width="151.4" height="150.8" fill="#000"/>
<rect x="1095.8" y="550.4" width="151.2" height="150.8" fill="#000"/>
<svg x="788" y="706.6" width="151.2" height="151"><use href="#texb2" x="0" y="0" /></svg>
<svg x="1252" y="706.6" width="151" height="151"><use href="#texb2" x="0" y="0" /></svg>
<rect x="942.2" y="706.6" width="151.4" height="151" fill="#000"/>
<rect x="1095.8" y="706.6" width="151.2" height="151" fill="#000"/>
<svg x="788" y="864.5" width="151.2" height="151"><use href="#texb3" x="0" y="0" /></svg>
<svg x="1252" y="864.5" width="151" height="151"><use href="#texb3" x="0" y="0" /></svg>
<rect x="942.2" y="864.5" width="151.4" height="151" fill="#000"/>
<rect x="1095.8" y="864.5" width="151.2" height="151" fill="#000"/>
<use href="#yt1" x="942.2" y="40" stroke="#16e016" color="#16e016"/>
<use href="#yt1" x="788" y="40" stroke="#0f9a0f" color="#0f9a0f"/>
<use href="#yb1" x="942.2" y="550.4" stroke="#14e614" color="#14e614"/>
<use href="#yb1" x="788" y="550.4" stroke="#18c818" color="#18c818"/>
<circle cx="1121.5" cy="57.3" r="3.2" fill="#ff1a1a" fill-opacity="1"/>
<circle cx="813.7" cy="57.3" r="3.2" fill="#d0b030" fill-opacity="1"/>
<circle cx="1190" cy="83.3" r="3.6" fill="#ff1a1a" fill-opacity="1"/>
<circle cx="882.2" cy="83.3" r="3.6" fill="#f0e020" fill-opacity="1"/>
<circle cx="1186.2" cy="122.1" r="3.6" fill="#ff1a1a" fill-opacity="1"/>
<circle cx="878.4" cy="122.1" r="3.6" fill="#f0e020" fill-opacity="1"/>
<circle cx="1160.4" cy="147.7" r="3" fill="#ff1a1a" fill-opacity="1"/>
<circle cx="852.6" cy="147.7" r="3" fill="#ff3030" fill-opacity="1"/>
<circle cx="1215" cy="171" r="3.4" fill="#ff1a1a" fill-opacity="1"/>
<circle cx="907.2" cy="171" r="3.4" fill="#f0e020" fill-opacity="1"/>
<circle cx="1221.7" cy="42.2" r="3" fill="#ff1a1a" fill-opacity="1"/>
<circle cx="913.9" cy="42.2" r="3" fill="#f08030" fill-opacity="1"/>
<circle cx="1225.5" cy="70" r="2.5" fill="#ff1a1a" fill-opacity="0.4"/>
<circle cx="917.7" cy="70" r="2.5" fill="#80a030" fill-opacity="0.4"/>
<circle cx="1225.5" cy="138.8" r="2.5" fill="#ff1a1a" fill-opacity="0.4"/>
<circle cx="917.7" cy="138.8" r="2.5" fill="#90c030" fill-opacity="0.4"/>
<circle cx="1143.3" cy="62.8" r="1.8" fill="#ff1a1a" fill-opacity="0.5"/>
<circle cx="835.5" cy="62.8" r="1.8" fill="#ff3030" fill-opacity="0.5"/>
<circle cx="1179.7" cy="199.2" r="2.5" fill="#ff1a1a" fill-opacity="0.9"/>
<circle cx="871.9" cy="199.2" r="2.5" fill="#ff2a2a" fill-opacity="0.9"/>
<circle cx="1130.4" cy="213.4" r="2" fill="#ff1a1a" fill-opacity="0.6"/>
<circle cx="822.6" cy="213.4" r="2" fill="#ff2a2a" fill-opacity="0.6"/>
<circle cx="1158.4" cy="214.4" r="1.8" fill="#ff1a1a" fill-opacity="0.5"/>
<circle cx="850.6" cy="214.4" r="1.8" fill="#ff2a2a" fill-opacity="0.5"/>
<circle cx="1133.7" cy="239.7" r="2" fill="#ff1a1a" fill-opacity="0.7"/>
<circle cx="825.9" cy="239.7" r="2" fill="#ff2a2a" fill-opacity="0.7"/>
<circle cx="1139.6" cy="252.2" r="1.8" fill="#ff1a1a" fill-opacity="0.6"/>
<circle cx="831.8" cy="252.2" r="1.8" fill="#ff2a2a" fill-opacity="0.6"/>
<circle cx="1221.8" cy="261" r="2.6" fill="#ff1a1a" fill-opacity="0.9"/>
<circle cx="914" cy="261" r="2.6" fill="#ff2a2a" fill-opacity="0.9"/>
<circle cx="1174.1" cy="288.4" r="2.4" fill="#ff1a1a" fill-opacity="0.7"/>
<circle cx="866.3" cy="288.4" r="2.4" fill="#ff2a2a" fill-opacity="0.7"/>
<circle cx="1197.8" cy="294" r="2.8" fill="#ff1a1a" fill-opacity="1"/>
<circle cx="890" cy="294" r="2.8" fill="#ff2a2a" fill-opacity="1"/>
<circle cx="1149.5" cy="339" r="2.2" fill="#ff1a1a" fill-opacity="0.9"/>
<circle cx="841.7" cy="339" r="2.2" fill="#ff2a2a" fill-opacity="0.9"/>
<circle cx="1188" cy="336.7" r="2" fill="#ff1a1a" fill-opacity="0.7"/>
<circle cx="880.2" cy="336.7" r="2" fill="#ff2a2a" fill-opacity="0.7"/>
<circle cx="1109" cy="374.6" r="3.2" fill="#ff1a1a" fill-opacity="1"/>
<circle cx="801.2" cy="374.6" r="3.2" fill="#ff2a2a" fill-opacity="1"/>
<circle cx="1180.7" cy="404.8" r="3.2" fill="#ff1a1a" fill-opacity="1"/>
<circle cx="872.9" cy="404.8" r="3.2" fill="#ff2a2a" fill-opacity="1"/>
<circle cx="1210" cy="437" r="3" fill="#ff1a1a" fill-opacity="1"/>
<circle cx="902.2" cy="437" r="3" fill="#ff2a2a" fill-opacity="1"/>
<circle cx="1099" cy="463.4" r="2.6" fill="#ff1a1a" fill-opacity="0.8"/>
<circle cx="791.2" cy="463.4" r="2.6" fill="#ff2a2a" fill-opacity="0.8"/>
<circle cx="1127" cy="461" r="2.2" fill="#ff1a1a" fill-opacity="0.6"/>
<circle cx="819.2" cy="461" r="2.2" fill="#ff2a2a" fill-opacity="0.6"/>
<circle cx="1140" cy="442.7" r="2" fill="#ff1a1a" fill-opacity="0.4"/>
<circle cx="832.2" cy="442.7" r="2" fill="#ff2a2a" fill-opacity="0.4"/>
<circle cx="1188" cy="478.8" r="2.8" fill="#ff1a1a" fill-opacity="1"/>
<circle cx="880.2" cy="478.8" r="2.8" fill="#ff2a2a" fill-opacity="1"/>
<circle cx="1209.3" cy="484.8" r="3" fill="#ff1a1a" fill-opacity="0.9"/>
<circle cx="901.5" cy="484.8" r="3" fill="#ff2a2a" fill-opacity="0.9"/>
<circle cx="1166.6" cy="365.7" r="1.8" fill="#ff1a1a" fill-opacity="0.4"/>
<circle cx="858.8" cy="365.7" r="1.8" fill="#ff2a2a" fill-opacity="0.4"/>
<use href="#rfp1" x="1095.8" y="550.4" fill="#3a0000" fill-opacity="0.5" stroke="#ff1a1a" stroke-width="2.5"/>
<use href="#rfp1" x="788" y="550.4" fill="#603020" fill-opacity="0.15" stroke="#e8c818" stroke-width="2.6"/>
<use href="#rfp2" x="1095.8" y="706.6" fill="#3a0000" fill-opacity="0.5" stroke="#ff1a1a" stroke-width="2.5"/>
<use href="#rfp2" x="788" y="706.6" fill="#c02020" fill-opacity="0.35" stroke="#ff2020" stroke-width="2.5"/>
<use href="#rfp3" x="1095.8" y="864.5" fill="#3a0000" fill-opacity="0.5" stroke="#ff1a1a" stroke-width="2.5"/>
<use href="#rfp3" x="788" y="864.5" fill="#c02020" fill-opacity="0.35" stroke="#ff2020" stroke-width="2.5"/>
<path d="M1378 183.9H1392" stroke="#ff2020" stroke-width="2"/>
<path d="M1069 184.9H1079M1223 184.9H1233M915 184.9H925" stroke="#d02020" stroke-width="1.5"/>
<path d="M1378 339.9H1392" stroke="#ff2020" stroke-width="2"/>
<path d="M1069 340.9H1079M1223 340.9H1233M915 340.9H925" stroke="#d02020" stroke-width="1.5"/>
<path d="M1378 495.7H1392" stroke="#ff2020" stroke-width="2"/>
<path d="M1069 496.7H1079M1223 496.7H1233M915 496.7H925" stroke="#d02020" stroke-width="1.5"/>
<path d="M1378 694.7H1392" stroke="#ff2020" stroke-width="2"/>
<path d="M1069 695.7H1079M1223 695.7H1233M915 695.7H925" stroke="#d02020" stroke-width="1.5"/>
<path d="M1378 851.1H1392" stroke="#ff2020" stroke-width="2"/>
<path d="M1069 852.1H1079M1223 852.1H1233M915 852.1H925" stroke="#d02020" stroke-width="1.5"/>
<path d="M1378 1009H1392" stroke="#ff2020" stroke-width="2"/>
<path d="M1069 1010H1079M1223 1010H1233M915 1010H925" stroke="#d02020" stroke-width="1.5"/>
<path d="M939.6 706.6V857.6M939.6 864.5V1015.5M1402.6 864.5V1015.5M1247.4 706.6V857.6" stroke="#e0d040" stroke-width="1.2"/>
</g>
</g>
</svg>
</body></html>
